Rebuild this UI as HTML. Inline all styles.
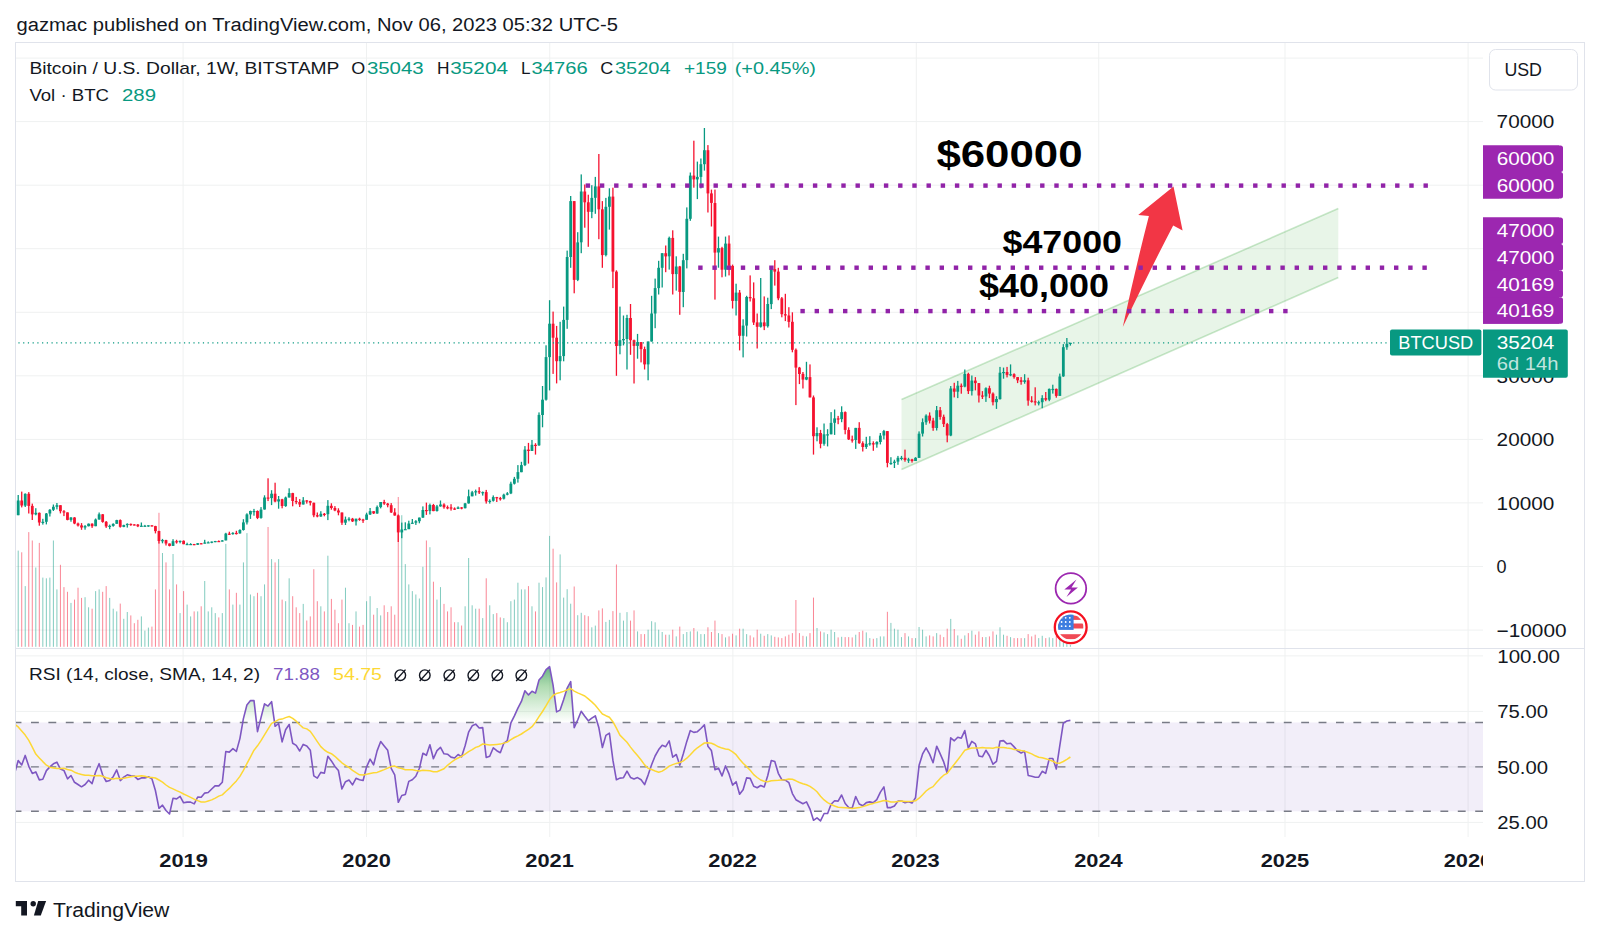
<!DOCTYPE html>
<html><head><meta charset="utf-8"><title>BTCUSD</title>
<style>html,body{margin:0;padding:0;background:#fff;width:1600px;height:937px;overflow:hidden}body{position:relative;font-family:"Liberation Sans",sans-serif}</style>
</head><body>
<svg width="1600" height="937" viewBox="0 0 1600 937" style="position:absolute;left:0;top:0">
<defs><clipPath id="cp"><rect x="16" y="43" width="1467" height="605"/></clipPath><clipPath id="cr"><rect x="16" y="649" width="1467" height="188"/></clipPath><clipPath id="ct"><rect x="16" y="837" width="1467" height="45"/></clipPath><linearGradient id="ob" x1="0" y1="0" x2="0" y2="1"><stop offset="0" stop-color="#089981" stop-opacity="0.75"/><stop offset="1" stop-color="#4caf50" stop-opacity="0"/></linearGradient></defs>
<line x1="183.1" y1="43" x2="183.1" y2="837" stroke="#eff1f1" stroke-width="1"/>
<line x1="366.5" y1="43" x2="366.5" y2="837" stroke="#eff1f1" stroke-width="1"/>
<line x1="549.75" y1="43" x2="549.75" y2="837" stroke="#eff1f1" stroke-width="1"/>
<line x1="732.9" y1="43" x2="732.9" y2="837" stroke="#eff1f1" stroke-width="1"/>
<line x1="916.3" y1="43" x2="916.3" y2="837" stroke="#eff1f1" stroke-width="1"/>
<line x1="1098.75" y1="43" x2="1098.75" y2="837" stroke="#eff1f1" stroke-width="1"/>
<line x1="1285" y1="43" x2="1285" y2="837" stroke="#eff1f1" stroke-width="1"/>
<line x1="1468.1" y1="43" x2="1468.1" y2="837" stroke="#eff1f1" stroke-width="1"/>
<line x1="16" y1="58.1" x2="1483" y2="58.1" stroke="#eff1f1" stroke-width="1"/>
<line x1="16" y1="121.6" x2="1483" y2="121.6" stroke="#eff1f1" stroke-width="1"/>
<line x1="16" y1="185.2" x2="1483" y2="185.2" stroke="#eff1f1" stroke-width="1"/>
<line x1="16" y1="248.7" x2="1483" y2="248.7" stroke="#eff1f1" stroke-width="1"/>
<line x1="16" y1="312.3" x2="1483" y2="312.3" stroke="#eff1f1" stroke-width="1"/>
<line x1="16" y1="375.8" x2="1483" y2="375.8" stroke="#eff1f1" stroke-width="1"/>
<line x1="16" y1="439.4" x2="1483" y2="439.4" stroke="#eff1f1" stroke-width="1"/>
<line x1="16" y1="502.9" x2="1483" y2="502.9" stroke="#eff1f1" stroke-width="1"/>
<line x1="16" y1="566.5" x2="1483" y2="566.5" stroke="#eff1f1" stroke-width="1"/>
<line x1="16" y1="630.1" x2="1483" y2="630.1" stroke="#eff1f1" stroke-width="1"/>
<line x1="16" y1="655.9" x2="1483" y2="655.9" stroke="#eff1f1" stroke-width="1"/>
<line x1="16" y1="711.4" x2="1483" y2="711.4" stroke="#eff1f1" stroke-width="1"/>
<line x1="16" y1="766.9" x2="1483" y2="766.9" stroke="#eff1f1" stroke-width="1"/>
<line x1="16" y1="822.4" x2="1483" y2="822.4" stroke="#eff1f1" stroke-width="1"/>
<rect x="15.5" y="42.5" width="1569" height="839" fill="none" stroke="#e0e3eb" stroke-width="1"/>
<line x1="15" y1="648.5" x2="1584" y2="648.5" stroke="#e0e3eb" stroke-width="1"/>
<g clip-path="url(#cp)">
<polygon points="901.5,399.6 1338.3,208.6 1338.3,277.6 901.5,469.6" fill="#4caf50" fill-opacity="0.13" stroke="none"/>
<line x1="901.5" y1="399.6" x2="1338.3" y2="208.6" stroke="#4caf50" stroke-opacity="0.3" stroke-width="1.6"/>
<line x1="901.5" y1="469.6" x2="1338.3" y2="277.6" stroke="#4caf50" stroke-opacity="0.3" stroke-width="1.6"/>
<rect x="17.70" y="550.6" width="1" height="96.2" fill="#089981" fill-opacity="0.5"/>
<rect x="21.22" y="552.3" width="1" height="94.5" fill="#f5122f" fill-opacity="0.5"/>
<rect x="24.74" y="586.1" width="1" height="60.7" fill="#089981" fill-opacity="0.5"/>
<rect x="28.26" y="532.1" width="1" height="114.7" fill="#f5122f" fill-opacity="0.5"/>
<rect x="31.78" y="540.5" width="1" height="106.3" fill="#f5122f" fill-opacity="0.5"/>
<rect x="35.30" y="567.5" width="1" height="79.3" fill="#089981" fill-opacity="0.5"/>
<rect x="38.81" y="542.9" width="1" height="103.9" fill="#f5122f" fill-opacity="0.5"/>
<rect x="42.33" y="577.6" width="1" height="69.2" fill="#089981" fill-opacity="0.5"/>
<rect x="45.85" y="578.3" width="1" height="68.5" fill="#089981" fill-opacity="0.5"/>
<rect x="49.37" y="577.6" width="1" height="69.2" fill="#089981" fill-opacity="0.5"/>
<rect x="52.89" y="540.5" width="1" height="106.3" fill="#089981" fill-opacity="0.5"/>
<rect x="56.41" y="589.4" width="1" height="57.4" fill="#089981" fill-opacity="0.5"/>
<rect x="59.93" y="564.8" width="1" height="82.0" fill="#f5122f" fill-opacity="0.5"/>
<rect x="63.45" y="587.1" width="1" height="59.7" fill="#f5122f" fill-opacity="0.5"/>
<rect x="66.97" y="591.8" width="1" height="55.0" fill="#f5122f" fill-opacity="0.5"/>
<rect x="70.48" y="602.9" width="1" height="43.9" fill="#089981" fill-opacity="0.5"/>
<rect x="74.00" y="599.6" width="1" height="47.2" fill="#f5122f" fill-opacity="0.5"/>
<rect x="77.52" y="587.7" width="1" height="59.1" fill="#f5122f" fill-opacity="0.5"/>
<rect x="81.04" y="597.9" width="1" height="48.9" fill="#f5122f" fill-opacity="0.5"/>
<rect x="84.56" y="597.2" width="1" height="49.6" fill="#089981" fill-opacity="0.5"/>
<rect x="88.08" y="607.3" width="1" height="39.5" fill="#089981" fill-opacity="0.5"/>
<rect x="91.60" y="608.7" width="1" height="38.1" fill="#f5122f" fill-opacity="0.5"/>
<rect x="95.12" y="591.1" width="1" height="55.7" fill="#089981" fill-opacity="0.5"/>
<rect x="98.64" y="589.4" width="1" height="57.4" fill="#089981" fill-opacity="0.5"/>
<rect x="102.16" y="591.8" width="1" height="55.0" fill="#f5122f" fill-opacity="0.5"/>
<rect x="105.68" y="586.1" width="1" height="60.7" fill="#f5122f" fill-opacity="0.5"/>
<rect x="109.19" y="597.9" width="1" height="48.9" fill="#089981" fill-opacity="0.5"/>
<rect x="112.71" y="608.7" width="1" height="38.1" fill="#089981" fill-opacity="0.5"/>
<rect x="116.23" y="611.4" width="1" height="35.4" fill="#089981" fill-opacity="0.5"/>
<rect x="119.75" y="603.6" width="1" height="43.2" fill="#f5122f" fill-opacity="0.5"/>
<rect x="123.27" y="618.8" width="1" height="28.0" fill="#089981" fill-opacity="0.5"/>
<rect x="126.79" y="612.0" width="1" height="34.8" fill="#089981" fill-opacity="0.5"/>
<rect x="130.31" y="615.4" width="1" height="31.4" fill="#f5122f" fill-opacity="0.5"/>
<rect x="133.83" y="623.2" width="1" height="23.6" fill="#f5122f" fill-opacity="0.5"/>
<rect x="137.35" y="619.8" width="1" height="27.0" fill="#f5122f" fill-opacity="0.5"/>
<rect x="140.87" y="616.4" width="1" height="30.4" fill="#089981" fill-opacity="0.5"/>
<rect x="144.38" y="630.6" width="1" height="16.2" fill="#089981" fill-opacity="0.5"/>
<rect x="147.90" y="627.6" width="1" height="19.2" fill="#089981" fill-opacity="0.5"/>
<rect x="151.42" y="626.6" width="1" height="20.2" fill="#f5122f" fill-opacity="0.5"/>
<rect x="154.94" y="589.4" width="1" height="57.4" fill="#f5122f" fill-opacity="0.5"/>
<rect x="158.46" y="512.8" width="1" height="134.0" fill="#f5122f" fill-opacity="0.5"/>
<rect x="161.98" y="553.0" width="1" height="93.8" fill="#089981" fill-opacity="0.5"/>
<rect x="165.50" y="562.4" width="1" height="84.4" fill="#f5122f" fill-opacity="0.5"/>
<rect x="169.02" y="589.4" width="1" height="57.4" fill="#f5122f" fill-opacity="0.5"/>
<rect x="172.54" y="554.0" width="1" height="92.8" fill="#089981" fill-opacity="0.5"/>
<rect x="176.06" y="584.4" width="1" height="62.4" fill="#f5122f" fill-opacity="0.5"/>
<rect x="179.57" y="613.1" width="1" height="33.7" fill="#089981" fill-opacity="0.5"/>
<rect x="183.09" y="591.1" width="1" height="55.7" fill="#f5122f" fill-opacity="0.5"/>
<rect x="186.61" y="604.6" width="1" height="42.2" fill="#089981" fill-opacity="0.5"/>
<rect x="190.13" y="616.4" width="1" height="30.4" fill="#089981" fill-opacity="0.5"/>
<rect x="193.65" y="611.4" width="1" height="35.4" fill="#f5122f" fill-opacity="0.5"/>
<rect x="197.17" y="611.4" width="1" height="35.4" fill="#089981" fill-opacity="0.5"/>
<rect x="200.69" y="606.3" width="1" height="40.5" fill="#f5122f" fill-opacity="0.5"/>
<rect x="204.21" y="581.0" width="1" height="65.8" fill="#089981" fill-opacity="0.5"/>
<rect x="207.73" y="611.4" width="1" height="35.4" fill="#089981" fill-opacity="0.5"/>
<rect x="211.25" y="607.3" width="1" height="39.5" fill="#089981" fill-opacity="0.5"/>
<rect x="214.76" y="613.1" width="1" height="33.7" fill="#089981" fill-opacity="0.5"/>
<rect x="218.28" y="617.4" width="1" height="29.4" fill="#f5122f" fill-opacity="0.5"/>
<rect x="221.80" y="613.1" width="1" height="33.7" fill="#089981" fill-opacity="0.5"/>
<rect x="225.32" y="543.9" width="1" height="102.9" fill="#089981" fill-opacity="0.5"/>
<rect x="228.84" y="589.4" width="1" height="57.4" fill="#f5122f" fill-opacity="0.5"/>
<rect x="232.36" y="604.6" width="1" height="42.2" fill="#089981" fill-opacity="0.5"/>
<rect x="235.88" y="592.8" width="1" height="54.0" fill="#f5122f" fill-opacity="0.5"/>
<rect x="239.40" y="604.6" width="1" height="42.2" fill="#089981" fill-opacity="0.5"/>
<rect x="242.92" y="562.4" width="1" height="84.4" fill="#089981" fill-opacity="0.5"/>
<rect x="246.44" y="533.1" width="1" height="113.7" fill="#089981" fill-opacity="0.5"/>
<rect x="249.95" y="594.5" width="1" height="52.3" fill="#089981" fill-opacity="0.5"/>
<rect x="253.47" y="596.2" width="1" height="50.6" fill="#089981" fill-opacity="0.5"/>
<rect x="256.99" y="592.8" width="1" height="54.0" fill="#f5122f" fill-opacity="0.5"/>
<rect x="260.51" y="596.2" width="1" height="50.6" fill="#089981" fill-opacity="0.5"/>
<rect x="264.03" y="584.4" width="1" height="62.4" fill="#089981" fill-opacity="0.5"/>
<rect x="267.55" y="527.0" width="1" height="119.8" fill="#f5122f" fill-opacity="0.5"/>
<rect x="271.07" y="559.1" width="1" height="87.7" fill="#089981" fill-opacity="0.5"/>
<rect x="274.59" y="562.4" width="1" height="84.4" fill="#f5122f" fill-opacity="0.5"/>
<rect x="278.11" y="559.1" width="1" height="87.7" fill="#089981" fill-opacity="0.5"/>
<rect x="281.62" y="599.6" width="1" height="47.2" fill="#f5122f" fill-opacity="0.5"/>
<rect x="285.14" y="601.2" width="1" height="45.6" fill="#089981" fill-opacity="0.5"/>
<rect x="288.66" y="578.3" width="1" height="68.5" fill="#089981" fill-opacity="0.5"/>
<rect x="292.18" y="596.2" width="1" height="50.6" fill="#f5122f" fill-opacity="0.5"/>
<rect x="295.70" y="607.3" width="1" height="39.5" fill="#f5122f" fill-opacity="0.5"/>
<rect x="299.22" y="613.1" width="1" height="33.7" fill="#f5122f" fill-opacity="0.5"/>
<rect x="302.74" y="603.9" width="1" height="42.9" fill="#089981" fill-opacity="0.5"/>
<rect x="306.26" y="620.5" width="1" height="26.3" fill="#f5122f" fill-opacity="0.5"/>
<rect x="309.78" y="616.4" width="1" height="30.4" fill="#f5122f" fill-opacity="0.5"/>
<rect x="313.30" y="569.2" width="1" height="77.6" fill="#f5122f" fill-opacity="0.5"/>
<rect x="316.81" y="601.2" width="1" height="45.6" fill="#f5122f" fill-opacity="0.5"/>
<rect x="320.33" y="606.3" width="1" height="40.5" fill="#089981" fill-opacity="0.5"/>
<rect x="323.85" y="611.4" width="1" height="35.4" fill="#f5122f" fill-opacity="0.5"/>
<rect x="327.37" y="555.7" width="1" height="91.1" fill="#089981" fill-opacity="0.5"/>
<rect x="330.89" y="598.9" width="1" height="47.9" fill="#f5122f" fill-opacity="0.5"/>
<rect x="334.41" y="609.7" width="1" height="37.1" fill="#f5122f" fill-opacity="0.5"/>
<rect x="337.93" y="623.2" width="1" height="23.6" fill="#f5122f" fill-opacity="0.5"/>
<rect x="341.45" y="599.6" width="1" height="47.2" fill="#f5122f" fill-opacity="0.5"/>
<rect x="344.97" y="587.7" width="1" height="59.1" fill="#089981" fill-opacity="0.5"/>
<rect x="348.49" y="623.2" width="1" height="23.6" fill="#089981" fill-opacity="0.5"/>
<rect x="352.00" y="624.9" width="1" height="21.9" fill="#f5122f" fill-opacity="0.5"/>
<rect x="355.52" y="611.4" width="1" height="35.4" fill="#089981" fill-opacity="0.5"/>
<rect x="359.04" y="626.6" width="1" height="20.2" fill="#f5122f" fill-opacity="0.5"/>
<rect x="362.56" y="624.9" width="1" height="21.9" fill="#f5122f" fill-opacity="0.5"/>
<rect x="366.08" y="601.2" width="1" height="45.6" fill="#089981" fill-opacity="0.5"/>
<rect x="369.60" y="596.2" width="1" height="50.6" fill="#089981" fill-opacity="0.5"/>
<rect x="373.12" y="614.7" width="1" height="32.1" fill="#f5122f" fill-opacity="0.5"/>
<rect x="376.64" y="608.0" width="1" height="38.8" fill="#089981" fill-opacity="0.5"/>
<rect x="380.16" y="615.4" width="1" height="31.4" fill="#089981" fill-opacity="0.5"/>
<rect x="383.68" y="605.3" width="1" height="41.5" fill="#f5122f" fill-opacity="0.5"/>
<rect x="387.19" y="612.0" width="1" height="34.8" fill="#f5122f" fill-opacity="0.5"/>
<rect x="390.71" y="606.3" width="1" height="40.5" fill="#f5122f" fill-opacity="0.5"/>
<rect x="394.23" y="614.7" width="1" height="32.1" fill="#f5122f" fill-opacity="0.5"/>
<rect x="397.75" y="497.0" width="1" height="149.8" fill="#f5122f" fill-opacity="0.5"/>
<rect x="401.27" y="515.2" width="1" height="131.6" fill="#089981" fill-opacity="0.5"/>
<rect x="404.79" y="564.1" width="1" height="82.7" fill="#089981" fill-opacity="0.5"/>
<rect x="408.31" y="584.4" width="1" height="62.4" fill="#089981" fill-opacity="0.5"/>
<rect x="411.83" y="591.1" width="1" height="55.7" fill="#089981" fill-opacity="0.5"/>
<rect x="415.35" y="594.5" width="1" height="52.3" fill="#089981" fill-opacity="0.5"/>
<rect x="418.87" y="598.5" width="1" height="48.3" fill="#089981" fill-opacity="0.5"/>
<rect x="422.38" y="566.8" width="1" height="80.0" fill="#089981" fill-opacity="0.5"/>
<rect x="425.90" y="540.5" width="1" height="106.3" fill="#f5122f" fill-opacity="0.5"/>
<rect x="429.42" y="547.2" width="1" height="99.6" fill="#089981" fill-opacity="0.5"/>
<rect x="432.94" y="581.7" width="1" height="65.1" fill="#f5122f" fill-opacity="0.5"/>
<rect x="436.46" y="599.6" width="1" height="47.2" fill="#089981" fill-opacity="0.5"/>
<rect x="439.98" y="587.1" width="1" height="59.7" fill="#089981" fill-opacity="0.5"/>
<rect x="443.50" y="603.9" width="1" height="42.9" fill="#f5122f" fill-opacity="0.5"/>
<rect x="447.02" y="611.4" width="1" height="35.4" fill="#f5122f" fill-opacity="0.5"/>
<rect x="450.54" y="607.3" width="1" height="39.5" fill="#f5122f" fill-opacity="0.5"/>
<rect x="454.06" y="622.2" width="1" height="24.6" fill="#f5122f" fill-opacity="0.5"/>
<rect x="457.57" y="622.2" width="1" height="24.6" fill="#089981" fill-opacity="0.5"/>
<rect x="461.09" y="625.5" width="1" height="21.3" fill="#f5122f" fill-opacity="0.5"/>
<rect x="464.61" y="606.3" width="1" height="40.5" fill="#089981" fill-opacity="0.5"/>
<rect x="468.13" y="558.0" width="1" height="88.8" fill="#089981" fill-opacity="0.5"/>
<rect x="471.65" y="605.3" width="1" height="41.5" fill="#089981" fill-opacity="0.5"/>
<rect x="475.17" y="608.7" width="1" height="38.1" fill="#089981" fill-opacity="0.5"/>
<rect x="478.69" y="608.7" width="1" height="38.1" fill="#f5122f" fill-opacity="0.5"/>
<rect x="482.21" y="618.1" width="1" height="28.7" fill="#089981" fill-opacity="0.5"/>
<rect x="485.73" y="578.3" width="1" height="68.5" fill="#f5122f" fill-opacity="0.5"/>
<rect x="489.25" y="605.3" width="1" height="41.5" fill="#089981" fill-opacity="0.5"/>
<rect x="492.76" y="614.1" width="1" height="32.7" fill="#089981" fill-opacity="0.5"/>
<rect x="496.28" y="613.1" width="1" height="33.7" fill="#f5122f" fill-opacity="0.5"/>
<rect x="499.80" y="617.4" width="1" height="29.4" fill="#f5122f" fill-opacity="0.5"/>
<rect x="503.32" y="618.1" width="1" height="28.7" fill="#089981" fill-opacity="0.5"/>
<rect x="506.84" y="622.2" width="1" height="24.6" fill="#089981" fill-opacity="0.5"/>
<rect x="510.36" y="601.2" width="1" height="45.6" fill="#089981" fill-opacity="0.5"/>
<rect x="513.88" y="599.6" width="1" height="47.2" fill="#089981" fill-opacity="0.5"/>
<rect x="517.40" y="582.7" width="1" height="64.1" fill="#089981" fill-opacity="0.5"/>
<rect x="520.92" y="589.4" width="1" height="57.4" fill="#089981" fill-opacity="0.5"/>
<rect x="524.44" y="589.4" width="1" height="57.4" fill="#089981" fill-opacity="0.5"/>
<rect x="527.96" y="586.1" width="1" height="60.7" fill="#f5122f" fill-opacity="0.5"/>
<rect x="531.47" y="606.3" width="1" height="40.5" fill="#089981" fill-opacity="0.5"/>
<rect x="534.99" y="611.4" width="1" height="35.4" fill="#f5122f" fill-opacity="0.5"/>
<rect x="538.51" y="582.7" width="1" height="64.1" fill="#089981" fill-opacity="0.5"/>
<rect x="542.03" y="587.1" width="1" height="59.7" fill="#089981" fill-opacity="0.5"/>
<rect x="545.55" y="577.4" width="1" height="69.4" fill="#089981" fill-opacity="0.5"/>
<rect x="549.07" y="535.9" width="1" height="110.9" fill="#089981" fill-opacity="0.5"/>
<rect x="552.59" y="548.7" width="1" height="98.1" fill="#f5122f" fill-opacity="0.5"/>
<rect x="556.11" y="582.4" width="1" height="64.4" fill="#f5122f" fill-opacity="0.5"/>
<rect x="559.63" y="554.4" width="1" height="92.4" fill="#089981" fill-opacity="0.5"/>
<rect x="563.15" y="597.6" width="1" height="49.2" fill="#089981" fill-opacity="0.5"/>
<rect x="566.66" y="589.2" width="1" height="57.6" fill="#089981" fill-opacity="0.5"/>
<rect x="570.18" y="603.7" width="1" height="43.1" fill="#089981" fill-opacity="0.5"/>
<rect x="573.70" y="586.5" width="1" height="60.3" fill="#f5122f" fill-opacity="0.5"/>
<rect x="577.22" y="615.2" width="1" height="31.6" fill="#089981" fill-opacity="0.5"/>
<rect x="580.74" y="612.8" width="1" height="34.0" fill="#089981" fill-opacity="0.5"/>
<rect x="584.26" y="615.2" width="1" height="31.6" fill="#f5122f" fill-opacity="0.5"/>
<rect x="587.78" y="616.2" width="1" height="30.6" fill="#f5122f" fill-opacity="0.5"/>
<rect x="591.30" y="627.3" width="1" height="19.5" fill="#089981" fill-opacity="0.5"/>
<rect x="594.82" y="625.6" width="1" height="21.2" fill="#089981" fill-opacity="0.5"/>
<rect x="598.34" y="610.4" width="1" height="36.4" fill="#f5122f" fill-opacity="0.5"/>
<rect x="601.85" y="608.4" width="1" height="38.4" fill="#f5122f" fill-opacity="0.5"/>
<rect x="605.37" y="621.9" width="1" height="24.9" fill="#089981" fill-opacity="0.5"/>
<rect x="608.89" y="619.9" width="1" height="26.9" fill="#089981" fill-opacity="0.5"/>
<rect x="612.41" y="611.1" width="1" height="35.7" fill="#f5122f" fill-opacity="0.5"/>
<rect x="615.93" y="564.5" width="1" height="82.3" fill="#f5122f" fill-opacity="0.5"/>
<rect x="619.45" y="612.8" width="1" height="34.0" fill="#089981" fill-opacity="0.5"/>
<rect x="622.97" y="620.6" width="1" height="26.2" fill="#089981" fill-opacity="0.5"/>
<rect x="626.49" y="612.1" width="1" height="34.7" fill="#089981" fill-opacity="0.5"/>
<rect x="630.01" y="620.6" width="1" height="26.2" fill="#f5122f" fill-opacity="0.5"/>
<rect x="633.53" y="610.4" width="1" height="36.4" fill="#f5122f" fill-opacity="0.5"/>
<rect x="637.04" y="631.4" width="1" height="15.4" fill="#089981" fill-opacity="0.5"/>
<rect x="640.56" y="634.1" width="1" height="12.7" fill="#f5122f" fill-opacity="0.5"/>
<rect x="644.08" y="634.1" width="1" height="12.7" fill="#f5122f" fill-opacity="0.5"/>
<rect x="647.60" y="629.7" width="1" height="17.1" fill="#089981" fill-opacity="0.5"/>
<rect x="651.12" y="621.2" width="1" height="25.6" fill="#089981" fill-opacity="0.5"/>
<rect x="654.64" y="622.3" width="1" height="24.5" fill="#089981" fill-opacity="0.5"/>
<rect x="658.16" y="629.7" width="1" height="17.1" fill="#089981" fill-opacity="0.5"/>
<rect x="661.68" y="632.0" width="1" height="14.8" fill="#089981" fill-opacity="0.5"/>
<rect x="665.20" y="634.7" width="1" height="12.1" fill="#f5122f" fill-opacity="0.5"/>
<rect x="668.72" y="634.7" width="1" height="12.1" fill="#089981" fill-opacity="0.5"/>
<rect x="672.23" y="629.7" width="1" height="17.1" fill="#f5122f" fill-opacity="0.5"/>
<rect x="675.75" y="636.4" width="1" height="10.4" fill="#089981" fill-opacity="0.5"/>
<rect x="679.27" y="626.6" width="1" height="20.2" fill="#f5122f" fill-opacity="0.5"/>
<rect x="682.79" y="634.1" width="1" height="12.7" fill="#089981" fill-opacity="0.5"/>
<rect x="686.31" y="632.0" width="1" height="14.8" fill="#089981" fill-opacity="0.5"/>
<rect x="689.83" y="631.4" width="1" height="15.4" fill="#089981" fill-opacity="0.5"/>
<rect x="693.35" y="628.0" width="1" height="18.8" fill="#f5122f" fill-opacity="0.5"/>
<rect x="696.87" y="631.4" width="1" height="15.4" fill="#089981" fill-opacity="0.5"/>
<rect x="700.39" y="634.1" width="1" height="12.7" fill="#089981" fill-opacity="0.5"/>
<rect x="703.91" y="634.1" width="1" height="12.7" fill="#089981" fill-opacity="0.5"/>
<rect x="707.42" y="627.3" width="1" height="19.5" fill="#f5122f" fill-opacity="0.5"/>
<rect x="710.94" y="632.0" width="1" height="14.8" fill="#f5122f" fill-opacity="0.5"/>
<rect x="714.46" y="620.6" width="1" height="26.2" fill="#f5122f" fill-opacity="0.5"/>
<rect x="717.98" y="633.1" width="1" height="13.7" fill="#089981" fill-opacity="0.5"/>
<rect x="721.50" y="634.1" width="1" height="12.7" fill="#f5122f" fill-opacity="0.5"/>
<rect x="725.02" y="637.4" width="1" height="9.4" fill="#089981" fill-opacity="0.5"/>
<rect x="728.54" y="636.4" width="1" height="10.4" fill="#f5122f" fill-opacity="0.5"/>
<rect x="732.06" y="633.7" width="1" height="13.1" fill="#f5122f" fill-opacity="0.5"/>
<rect x="735.58" y="635.4" width="1" height="11.4" fill="#089981" fill-opacity="0.5"/>
<rect x="739.10" y="628.7" width="1" height="18.1" fill="#f5122f" fill-opacity="0.5"/>
<rect x="742.61" y="628.7" width="1" height="18.1" fill="#089981" fill-opacity="0.5"/>
<rect x="746.13" y="634.1" width="1" height="12.7" fill="#089981" fill-opacity="0.5"/>
<rect x="749.65" y="635.4" width="1" height="11.4" fill="#f5122f" fill-opacity="0.5"/>
<rect x="753.17" y="637.4" width="1" height="9.4" fill="#f5122f" fill-opacity="0.5"/>
<rect x="756.69" y="629.7" width="1" height="17.1" fill="#f5122f" fill-opacity="0.5"/>
<rect x="760.21" y="633.7" width="1" height="13.1" fill="#089981" fill-opacity="0.5"/>
<rect x="763.73" y="635.8" width="1" height="11.0" fill="#f5122f" fill-opacity="0.5"/>
<rect x="767.25" y="634.1" width="1" height="12.7" fill="#089981" fill-opacity="0.5"/>
<rect x="770.77" y="635.4" width="1" height="11.4" fill="#089981" fill-opacity="0.5"/>
<rect x="774.29" y="636.8" width="1" height="10.0" fill="#f5122f" fill-opacity="0.5"/>
<rect x="777.80" y="637.4" width="1" height="9.4" fill="#f5122f" fill-opacity="0.5"/>
<rect x="781.32" y="638.1" width="1" height="8.7" fill="#f5122f" fill-opacity="0.5"/>
<rect x="784.84" y="636.4" width="1" height="10.4" fill="#f5122f" fill-opacity="0.5"/>
<rect x="788.36" y="634.7" width="1" height="12.1" fill="#f5122f" fill-opacity="0.5"/>
<rect x="791.88" y="633.1" width="1" height="13.7" fill="#f5122f" fill-opacity="0.5"/>
<rect x="795.40" y="600.0" width="1" height="46.8" fill="#f5122f" fill-opacity="0.5"/>
<rect x="798.92" y="633.1" width="1" height="13.7" fill="#f5122f" fill-opacity="0.5"/>
<rect x="802.44" y="635.8" width="1" height="11.0" fill="#f5122f" fill-opacity="0.5"/>
<rect x="805.96" y="636.4" width="1" height="10.4" fill="#089981" fill-opacity="0.5"/>
<rect x="809.48" y="633.1" width="1" height="13.7" fill="#f5122f" fill-opacity="0.5"/>
<rect x="812.99" y="597.6" width="1" height="49.2" fill="#f5122f" fill-opacity="0.5"/>
<rect x="816.51" y="628.0" width="1" height="18.8" fill="#089981" fill-opacity="0.5"/>
<rect x="820.03" y="631.4" width="1" height="15.4" fill="#f5122f" fill-opacity="0.5"/>
<rect x="823.55" y="632.4" width="1" height="14.4" fill="#089981" fill-opacity="0.5"/>
<rect x="827.07" y="634.1" width="1" height="12.7" fill="#089981" fill-opacity="0.5"/>
<rect x="830.59" y="629.7" width="1" height="17.1" fill="#089981" fill-opacity="0.5"/>
<rect x="834.11" y="632.0" width="1" height="14.8" fill="#089981" fill-opacity="0.5"/>
<rect x="837.63" y="637.4" width="1" height="9.4" fill="#f5122f" fill-opacity="0.5"/>
<rect x="841.15" y="636.8" width="1" height="10.0" fill="#089981" fill-opacity="0.5"/>
<rect x="844.67" y="637.1" width="1" height="9.7" fill="#f5122f" fill-opacity="0.5"/>
<rect x="848.18" y="637.1" width="1" height="9.7" fill="#f5122f" fill-opacity="0.5"/>
<rect x="851.70" y="637.4" width="1" height="9.4" fill="#f5122f" fill-opacity="0.5"/>
<rect x="855.22" y="634.7" width="1" height="12.1" fill="#089981" fill-opacity="0.5"/>
<rect x="858.74" y="632.0" width="1" height="14.8" fill="#f5122f" fill-opacity="0.5"/>
<rect x="862.26" y="630.7" width="1" height="16.1" fill="#f5122f" fill-opacity="0.5"/>
<rect x="865.78" y="632.4" width="1" height="14.4" fill="#089981" fill-opacity="0.5"/>
<rect x="869.30" y="638.1" width="1" height="8.7" fill="#089981" fill-opacity="0.5"/>
<rect x="872.82" y="638.8" width="1" height="8.0" fill="#f5122f" fill-opacity="0.5"/>
<rect x="876.34" y="638.1" width="1" height="8.7" fill="#089981" fill-opacity="0.5"/>
<rect x="879.86" y="636.4" width="1" height="10.4" fill="#089981" fill-opacity="0.5"/>
<rect x="883.37" y="636.4" width="1" height="10.4" fill="#089981" fill-opacity="0.5"/>
<rect x="886.89" y="611.8" width="1" height="35.0" fill="#f5122f" fill-opacity="0.5"/>
<rect x="890.41" y="622.9" width="1" height="23.9" fill="#089981" fill-opacity="0.5"/>
<rect x="893.93" y="628.7" width="1" height="18.1" fill="#089981" fill-opacity="0.5"/>
<rect x="897.45" y="629.7" width="1" height="17.1" fill="#089981" fill-opacity="0.5"/>
<rect x="900.97" y="637.1" width="1" height="9.7" fill="#089981" fill-opacity="0.5"/>
<rect x="904.49" y="633.1" width="1" height="13.7" fill="#f5122f" fill-opacity="0.5"/>
<rect x="908.01" y="636.4" width="1" height="10.4" fill="#089981" fill-opacity="0.5"/>
<rect x="911.53" y="638.1" width="1" height="8.7" fill="#f5122f" fill-opacity="0.5"/>
<rect x="915.05" y="638.1" width="1" height="8.7" fill="#089981" fill-opacity="0.5"/>
<rect x="918.56" y="627.0" width="1" height="19.8" fill="#089981" fill-opacity="0.5"/>
<rect x="922.08" y="629.7" width="1" height="17.1" fill="#089981" fill-opacity="0.5"/>
<rect x="925.60" y="636.4" width="1" height="10.4" fill="#089981" fill-opacity="0.5"/>
<rect x="929.12" y="635.4" width="1" height="11.4" fill="#f5122f" fill-opacity="0.5"/>
<rect x="932.64" y="636.4" width="1" height="10.4" fill="#f5122f" fill-opacity="0.5"/>
<rect x="936.16" y="633.1" width="1" height="13.7" fill="#089981" fill-opacity="0.5"/>
<rect x="939.68" y="634.7" width="1" height="12.1" fill="#f5122f" fill-opacity="0.5"/>
<rect x="943.20" y="637.1" width="1" height="9.7" fill="#f5122f" fill-opacity="0.5"/>
<rect x="946.72" y="628.7" width="1" height="18.1" fill="#f5122f" fill-opacity="0.5"/>
<rect x="950.24" y="618.9" width="1" height="27.9" fill="#089981" fill-opacity="0.5"/>
<rect x="953.75" y="629.0" width="1" height="17.8" fill="#f5122f" fill-opacity="0.5"/>
<rect x="957.27" y="635.4" width="1" height="11.4" fill="#089981" fill-opacity="0.5"/>
<rect x="960.79" y="638.8" width="1" height="8.0" fill="#f5122f" fill-opacity="0.5"/>
<rect x="964.31" y="635.4" width="1" height="11.4" fill="#089981" fill-opacity="0.5"/>
<rect x="967.83" y="633.1" width="1" height="13.7" fill="#f5122f" fill-opacity="0.5"/>
<rect x="971.35" y="630.7" width="1" height="16.1" fill="#089981" fill-opacity="0.5"/>
<rect x="974.87" y="634.7" width="1" height="12.1" fill="#f5122f" fill-opacity="0.5"/>
<rect x="978.39" y="631.4" width="1" height="15.4" fill="#f5122f" fill-opacity="0.5"/>
<rect x="981.91" y="637.1" width="1" height="9.7" fill="#f5122f" fill-opacity="0.5"/>
<rect x="985.43" y="637.1" width="1" height="9.7" fill="#089981" fill-opacity="0.5"/>
<rect x="988.94" y="636.4" width="1" height="10.4" fill="#f5122f" fill-opacity="0.5"/>
<rect x="992.46" y="631.4" width="1" height="15.4" fill="#f5122f" fill-opacity="0.5"/>
<rect x="995.98" y="634.7" width="1" height="12.1" fill="#089981" fill-opacity="0.5"/>
<rect x="999.50" y="627.3" width="1" height="19.5" fill="#089981" fill-opacity="0.5"/>
<rect x="1003.02" y="634.7" width="1" height="12.1" fill="#089981" fill-opacity="0.5"/>
<rect x="1006.54" y="635.8" width="1" height="11.0" fill="#f5122f" fill-opacity="0.5"/>
<rect x="1010.06" y="637.1" width="1" height="9.7" fill="#089981" fill-opacity="0.5"/>
<rect x="1013.58" y="638.1" width="1" height="8.7" fill="#f5122f" fill-opacity="0.5"/>
<rect x="1017.10" y="638.1" width="1" height="8.7" fill="#f5122f" fill-opacity="0.5"/>
<rect x="1020.62" y="638.1" width="1" height="8.7" fill="#f5122f" fill-opacity="0.5"/>
<rect x="1024.13" y="638.1" width="1" height="8.7" fill="#089981" fill-opacity="0.5"/>
<rect x="1027.65" y="634.1" width="1" height="12.7" fill="#f5122f" fill-opacity="0.5"/>
<rect x="1031.17" y="636.4" width="1" height="10.4" fill="#f5122f" fill-opacity="0.5"/>
<rect x="1034.69" y="634.7" width="1" height="12.1" fill="#f5122f" fill-opacity="0.5"/>
<rect x="1038.21" y="638.1" width="1" height="8.7" fill="#089981" fill-opacity="0.5"/>
<rect x="1041.73" y="635.8" width="1" height="11.0" fill="#089981" fill-opacity="0.5"/>
<rect x="1045.25" y="638.1" width="1" height="8.7" fill="#f5122f" fill-opacity="0.5"/>
<rect x="1048.77" y="637.4" width="1" height="9.4" fill="#089981" fill-opacity="0.5"/>
<rect x="1052.29" y="638.1" width="1" height="8.7" fill="#089981" fill-opacity="0.5"/>
<rect x="1055.81" y="635.8" width="1" height="11.0" fill="#f5122f" fill-opacity="0.5"/>
<rect x="1059.32" y="638.1" width="1" height="8.7" fill="#089981" fill-opacity="0.5"/>
<rect x="1062.84" y="638.8" width="1" height="8.0" fill="#089981" fill-opacity="0.5"/>
<rect x="1066.36" y="640.8" width="1" height="6.0" fill="#089981" fill-opacity="0.5"/>
<rect x="1069.88" y="644.9" width="1" height="1.9" fill="#089981" fill-opacity="0.5"/>
<rect x="17.55" y="495.0" width="1.3" height="20.2" fill="#089981"/>
<rect x="16.80" y="500.5" width="2.8" height="14.7" fill="#089981"/>
<rect x="21.07" y="491.6" width="1.3" height="15.8" fill="#f5122f"/>
<rect x="20.32" y="500.5" width="2.8" height="5.0" fill="#f5122f"/>
<rect x="24.59" y="493.4" width="1.3" height="13.6" fill="#089981"/>
<rect x="23.84" y="493.8" width="2.8" height="11.8" fill="#089981"/>
<rect x="28.11" y="492.1" width="1.3" height="21.4" fill="#f5122f"/>
<rect x="27.36" y="493.8" width="2.8" height="12.1" fill="#f5122f"/>
<rect x="31.63" y="503.6" width="1.3" height="16.4" fill="#f5122f"/>
<rect x="30.88" y="505.9" width="2.8" height="8.5" fill="#f5122f"/>
<rect x="35.15" y="508.2" width="1.3" height="7.1" fill="#089981"/>
<rect x="34.40" y="512.8" width="2.8" height="1.6" fill="#089981"/>
<rect x="38.66" y="512.5" width="1.3" height="13.2" fill="#f5122f"/>
<rect x="37.91" y="512.8" width="2.8" height="9.7" fill="#f5122f"/>
<rect x="42.18" y="518.8" width="1.3" height="5.8" fill="#089981"/>
<rect x="41.43" y="521.8" width="2.8" height="1.2" fill="#089981"/>
<rect x="45.70" y="513.0" width="1.3" height="11.4" fill="#089981"/>
<rect x="44.95" y="513.5" width="2.8" height="8.3" fill="#089981"/>
<rect x="49.22" y="509.1" width="1.3" height="7.4" fill="#089981"/>
<rect x="48.47" y="509.8" width="2.8" height="3.7" fill="#089981"/>
<rect x="52.74" y="504.5" width="1.3" height="6.5" fill="#089981"/>
<rect x="51.99" y="506.8" width="2.8" height="3.0" fill="#089981"/>
<rect x="56.26" y="503.0" width="1.3" height="6.4" fill="#089981"/>
<rect x="55.51" y="505.2" width="2.8" height="1.6" fill="#089981"/>
<rect x="59.78" y="505.2" width="1.3" height="8.2" fill="#f5122f"/>
<rect x="59.03" y="505.2" width="2.8" height="6.0" fill="#f5122f"/>
<rect x="63.30" y="510.1" width="1.3" height="6.0" fill="#f5122f"/>
<rect x="62.55" y="511.3" width="2.8" height="1.2" fill="#f5122f"/>
<rect x="66.82" y="512.4" width="1.3" height="7.9" fill="#f5122f"/>
<rect x="66.07" y="512.4" width="2.8" height="7.5" fill="#f5122f"/>
<rect x="70.33" y="517.1" width="1.3" height="4.6" fill="#089981"/>
<rect x="69.58" y="517.5" width="2.8" height="2.4" fill="#089981"/>
<rect x="73.85" y="517.1" width="1.3" height="7.1" fill="#f5122f"/>
<rect x="73.10" y="517.5" width="2.8" height="6.0" fill="#f5122f"/>
<rect x="77.37" y="522.6" width="1.3" height="3.9" fill="#f5122f"/>
<rect x="76.62" y="523.5" width="2.8" height="2.0" fill="#f5122f"/>
<rect x="80.89" y="523.1" width="1.3" height="6.7" fill="#f5122f"/>
<rect x="80.14" y="525.4" width="2.8" height="2.1" fill="#f5122f"/>
<rect x="84.41" y="525.1" width="1.3" height="4.6" fill="#089981"/>
<rect x="83.66" y="526.1" width="2.8" height="1.4" fill="#089981"/>
<rect x="87.93" y="523.5" width="1.3" height="2.9" fill="#089981"/>
<rect x="87.18" y="523.7" width="2.8" height="2.5" fill="#089981"/>
<rect x="91.45" y="523.3" width="1.3" height="4.6" fill="#f5122f"/>
<rect x="90.70" y="523.7" width="2.8" height="2.5" fill="#f5122f"/>
<rect x="94.97" y="518.5" width="1.3" height="7.7" fill="#089981"/>
<rect x="94.22" y="519.5" width="2.8" height="6.7" fill="#089981"/>
<rect x="98.49" y="512.5" width="1.3" height="7.2" fill="#089981"/>
<rect x="97.74" y="514.3" width="2.8" height="5.2" fill="#089981"/>
<rect x="102.01" y="514.1" width="1.3" height="8.6" fill="#f5122f"/>
<rect x="101.26" y="514.3" width="2.8" height="7.6" fill="#f5122f"/>
<rect x="105.53" y="521.0" width="1.3" height="6.9" fill="#f5122f"/>
<rect x="104.78" y="521.8" width="2.8" height="4.6" fill="#f5122f"/>
<rect x="109.04" y="524.6" width="1.3" height="4.6" fill="#089981"/>
<rect x="108.29" y="525.8" width="2.8" height="1.2" fill="#089981"/>
<rect x="112.56" y="523.3" width="1.3" height="3.4" fill="#089981"/>
<rect x="111.81" y="523.9" width="2.8" height="2.0" fill="#089981"/>
<rect x="116.08" y="519.8" width="1.3" height="4.0" fill="#089981"/>
<rect x="115.33" y="520.1" width="2.8" height="3.7" fill="#089981"/>
<rect x="119.60" y="519.4" width="1.3" height="8.2" fill="#f5122f"/>
<rect x="118.85" y="520.1" width="2.8" height="6.7" fill="#f5122f"/>
<rect x="123.12" y="524.7" width="1.3" height="2.5" fill="#089981"/>
<rect x="122.37" y="525.1" width="2.8" height="1.8" fill="#089981"/>
<rect x="126.64" y="523.3" width="1.3" height="4.3" fill="#089981"/>
<rect x="125.89" y="523.9" width="2.8" height="1.2" fill="#089981"/>
<rect x="130.16" y="523.5" width="1.3" height="2.3" fill="#f5122f"/>
<rect x="129.41" y="523.9" width="2.8" height="1.2" fill="#f5122f"/>
<rect x="133.68" y="524.2" width="1.3" height="1.2" fill="#f5122f"/>
<rect x="132.93" y="524.4" width="2.8" height="1.2" fill="#f5122f"/>
<rect x="137.20" y="524.0" width="1.3" height="3.1" fill="#f5122f"/>
<rect x="136.45" y="524.6" width="2.8" height="1.7" fill="#f5122f"/>
<rect x="140.72" y="522.5" width="1.3" height="3.8" fill="#089981"/>
<rect x="139.97" y="525.7" width="2.8" height="1.2" fill="#089981"/>
<rect x="144.23" y="524.9" width="1.3" height="1.4" fill="#089981"/>
<rect x="143.48" y="525.7" width="2.8" height="1.2" fill="#089981"/>
<rect x="147.75" y="525.3" width="1.3" height="1.5" fill="#089981"/>
<rect x="147.00" y="525.3" width="2.8" height="1.2" fill="#089981"/>
<rect x="151.27" y="525.2" width="1.3" height="1.3" fill="#f5122f"/>
<rect x="150.52" y="525.3" width="2.8" height="1.2" fill="#f5122f"/>
<rect x="154.79" y="525.8" width="1.3" height="7.6" fill="#f5122f"/>
<rect x="154.04" y="526.1" width="2.8" height="5.0" fill="#f5122f"/>
<rect x="158.31" y="530.8" width="1.3" height="12.8" fill="#f5122f"/>
<rect x="157.56" y="531.0" width="2.8" height="10.0" fill="#f5122f"/>
<rect x="161.83" y="538.9" width="1.3" height="4.4" fill="#089981"/>
<rect x="161.08" y="540.1" width="2.8" height="1.2" fill="#089981"/>
<rect x="165.35" y="539.8" width="1.3" height="5.7" fill="#f5122f"/>
<rect x="164.60" y="540.1" width="2.8" height="3.4" fill="#f5122f"/>
<rect x="168.87" y="543.5" width="1.3" height="2.9" fill="#f5122f"/>
<rect x="168.12" y="543.5" width="2.8" height="2.4" fill="#f5122f"/>
<rect x="172.39" y="539.2" width="1.3" height="6.7" fill="#089981"/>
<rect x="171.64" y="541.2" width="2.8" height="4.7" fill="#089981"/>
<rect x="175.91" y="539.8" width="1.3" height="3.8" fill="#f5122f"/>
<rect x="175.16" y="541.2" width="2.8" height="1.2" fill="#f5122f"/>
<rect x="179.42" y="540.6" width="1.3" height="2.7" fill="#089981"/>
<rect x="178.67" y="540.8" width="2.8" height="1.2" fill="#089981"/>
<rect x="182.94" y="540.4" width="1.3" height="3.8" fill="#f5122f"/>
<rect x="182.19" y="540.8" width="2.8" height="3.4" fill="#f5122f"/>
<rect x="186.46" y="542.7" width="1.3" height="1.7" fill="#089981"/>
<rect x="185.71" y="544.0" width="2.8" height="1.2" fill="#089981"/>
<rect x="189.98" y="543.2" width="1.3" height="1.3" fill="#089981"/>
<rect x="189.23" y="544.0" width="2.8" height="1.2" fill="#089981"/>
<rect x="193.50" y="543.9" width="1.3" height="1.3" fill="#f5122f"/>
<rect x="192.75" y="544.0" width="2.8" height="1.2" fill="#f5122f"/>
<rect x="197.02" y="543.0" width="1.3" height="2.0" fill="#089981"/>
<rect x="196.27" y="543.2" width="2.8" height="1.6" fill="#089981"/>
<rect x="200.54" y="543.2" width="1.3" height="1.0" fill="#f5122f"/>
<rect x="199.79" y="543.2" width="2.8" height="1.2" fill="#f5122f"/>
<rect x="204.06" y="539.8" width="1.3" height="3.7" fill="#089981"/>
<rect x="203.31" y="542.5" width="2.8" height="1.2" fill="#089981"/>
<rect x="207.58" y="541.4" width="1.3" height="1.5" fill="#089981"/>
<rect x="206.83" y="542.3" width="2.8" height="1.2" fill="#089981"/>
<rect x="211.09" y="541.5" width="1.3" height="1.7" fill="#089981"/>
<rect x="210.34" y="541.6" width="2.8" height="1.2" fill="#089981"/>
<rect x="214.61" y="540.9" width="1.3" height="1.3" fill="#089981"/>
<rect x="213.86" y="541.0" width="2.8" height="1.2" fill="#089981"/>
<rect x="218.13" y="540.4" width="1.3" height="1.0" fill="#f5122f"/>
<rect x="217.38" y="541.0" width="2.8" height="1.2" fill="#f5122f"/>
<rect x="221.65" y="540.1" width="1.3" height="1.4" fill="#089981"/>
<rect x="220.90" y="540.4" width="2.8" height="1.2" fill="#089981"/>
<rect x="225.17" y="532.8" width="1.3" height="7.6" fill="#089981"/>
<rect x="224.42" y="533.6" width="2.8" height="6.8" fill="#089981"/>
<rect x="228.69" y="531.7" width="1.3" height="3.3" fill="#f5122f"/>
<rect x="227.94" y="533.6" width="2.8" height="1.2" fill="#f5122f"/>
<rect x="232.21" y="532.2" width="1.3" height="2.5" fill="#089981"/>
<rect x="231.46" y="532.9" width="2.8" height="1.2" fill="#089981"/>
<rect x="235.73" y="530.8" width="1.3" height="3.7" fill="#f5122f"/>
<rect x="234.98" y="532.9" width="2.8" height="1.2" fill="#f5122f"/>
<rect x="239.25" y="529.3" width="1.3" height="4.4" fill="#089981"/>
<rect x="238.50" y="530.0" width="2.8" height="3.4" fill="#089981"/>
<rect x="242.77" y="519.2" width="1.3" height="11.4" fill="#089981"/>
<rect x="242.02" y="522.4" width="2.8" height="7.6" fill="#089981"/>
<rect x="246.28" y="513.3" width="1.3" height="11.2" fill="#089981"/>
<rect x="245.53" y="514.4" width="2.8" height="8.0" fill="#089981"/>
<rect x="249.80" y="510.6" width="1.3" height="8.3" fill="#089981"/>
<rect x="249.05" y="511.0" width="2.8" height="3.4" fill="#089981"/>
<rect x="253.32" y="508.9" width="1.3" height="6.8" fill="#089981"/>
<rect x="252.57" y="511.0" width="2.8" height="1.2" fill="#089981"/>
<rect x="256.84" y="510.4" width="1.3" height="8.7" fill="#f5122f"/>
<rect x="256.09" y="511.0" width="2.8" height="6.9" fill="#f5122f"/>
<rect x="260.36" y="507.1" width="1.3" height="11.6" fill="#089981"/>
<rect x="259.61" y="509.6" width="2.8" height="8.3" fill="#089981"/>
<rect x="263.88" y="495.3" width="1.3" height="14.3" fill="#089981"/>
<rect x="263.13" y="497.5" width="2.8" height="12.0" fill="#089981"/>
<rect x="267.40" y="478.3" width="1.3" height="22.8" fill="#f5122f"/>
<rect x="266.65" y="497.5" width="2.8" height="1.2" fill="#f5122f"/>
<rect x="270.92" y="490.2" width="1.3" height="14.9" fill="#089981"/>
<rect x="270.17" y="493.7" width="2.8" height="4.4" fill="#089981"/>
<rect x="274.44" y="482.7" width="1.3" height="19.6" fill="#f5122f"/>
<rect x="273.69" y="493.7" width="2.8" height="7.8" fill="#f5122f"/>
<rect x="277.96" y="496.0" width="1.3" height="12.7" fill="#089981"/>
<rect x="277.21" y="499.3" width="2.8" height="2.2" fill="#089981"/>
<rect x="281.48" y="498.8" width="1.3" height="9.5" fill="#f5122f"/>
<rect x="280.73" y="499.3" width="2.8" height="6.7" fill="#f5122f"/>
<rect x="284.99" y="496.6" width="1.3" height="10.2" fill="#089981"/>
<rect x="284.24" y="497.5" width="2.8" height="8.6" fill="#089981"/>
<rect x="288.51" y="488.3" width="1.3" height="9.2" fill="#089981"/>
<rect x="287.76" y="493.1" width="2.8" height="4.4" fill="#089981"/>
<rect x="292.03" y="492.8" width="1.3" height="13.5" fill="#f5122f"/>
<rect x="291.28" y="493.1" width="2.8" height="7.9" fill="#f5122f"/>
<rect x="295.55" y="496.9" width="1.3" height="7.3" fill="#f5122f"/>
<rect x="294.80" y="501.0" width="2.8" height="1.2" fill="#f5122f"/>
<rect x="299.07" y="499.1" width="1.3" height="7.9" fill="#f5122f"/>
<rect x="298.32" y="502.0" width="2.8" height="2.5" fill="#f5122f"/>
<rect x="302.59" y="497.1" width="1.3" height="7.4" fill="#089981"/>
<rect x="301.84" y="500.4" width="2.8" height="4.1" fill="#089981"/>
<rect x="306.11" y="500.1" width="1.3" height="3.5" fill="#f5122f"/>
<rect x="305.36" y="500.4" width="2.8" height="1.2" fill="#f5122f"/>
<rect x="309.63" y="500.7" width="1.3" height="4.8" fill="#f5122f"/>
<rect x="308.88" y="501.0" width="2.8" height="1.7" fill="#f5122f"/>
<rect x="313.15" y="502.6" width="1.3" height="14.6" fill="#f5122f"/>
<rect x="312.40" y="502.8" width="2.8" height="12.5" fill="#f5122f"/>
<rect x="316.67" y="512.5" width="1.3" height="4.8" fill="#f5122f"/>
<rect x="315.92" y="515.2" width="2.8" height="1.3" fill="#f5122f"/>
<rect x="320.18" y="511.2" width="1.3" height="5.7" fill="#089981"/>
<rect x="319.43" y="513.8" width="2.8" height="2.7" fill="#089981"/>
<rect x="323.70" y="513.0" width="1.3" height="3.3" fill="#f5122f"/>
<rect x="322.95" y="513.8" width="2.8" height="1.2" fill="#f5122f"/>
<rect x="327.22" y="500.1" width="1.3" height="20.0" fill="#089981"/>
<rect x="326.47" y="505.8" width="2.8" height="8.4" fill="#089981"/>
<rect x="330.74" y="503.3" width="1.3" height="6.4" fill="#f5122f"/>
<rect x="329.99" y="505.8" width="2.8" height="2.2" fill="#f5122f"/>
<rect x="334.26" y="506.1" width="1.3" height="5.1" fill="#f5122f"/>
<rect x="333.51" y="508.0" width="2.8" height="2.5" fill="#f5122f"/>
<rect x="337.78" y="508.3" width="1.3" height="7.0" fill="#f5122f"/>
<rect x="337.03" y="510.5" width="2.8" height="2.0" fill="#f5122f"/>
<rect x="341.30" y="512.5" width="1.3" height="12.4" fill="#f5122f"/>
<rect x="340.55" y="512.5" width="2.8" height="10.2" fill="#f5122f"/>
<rect x="344.82" y="516.6" width="1.3" height="8.4" fill="#089981"/>
<rect x="344.07" y="519.5" width="2.8" height="3.2" fill="#089981"/>
<rect x="348.34" y="517.2" width="1.3" height="4.1" fill="#089981"/>
<rect x="347.59" y="518.7" width="2.8" height="1.2" fill="#089981"/>
<rect x="351.86" y="517.9" width="1.3" height="4.1" fill="#f5122f"/>
<rect x="351.11" y="518.7" width="2.8" height="2.7" fill="#f5122f"/>
<rect x="355.37" y="518.7" width="1.3" height="6.8" fill="#089981"/>
<rect x="354.62" y="518.7" width="2.8" height="2.7" fill="#089981"/>
<rect x="358.89" y="517.7" width="1.3" height="3.1" fill="#f5122f"/>
<rect x="358.14" y="518.7" width="2.8" height="1.2" fill="#f5122f"/>
<rect x="362.41" y="518.8" width="1.3" height="4.1" fill="#f5122f"/>
<rect x="361.66" y="519.5" width="2.8" height="1.2" fill="#f5122f"/>
<rect x="365.93" y="512.7" width="1.3" height="7.1" fill="#089981"/>
<rect x="365.18" y="514.5" width="2.8" height="5.3" fill="#089981"/>
<rect x="369.45" y="508.0" width="1.3" height="7.0" fill="#089981"/>
<rect x="368.70" y="511.2" width="2.8" height="3.3" fill="#089981"/>
<rect x="372.97" y="511.2" width="1.3" height="2.8" fill="#f5122f"/>
<rect x="372.22" y="511.2" width="2.8" height="2.2" fill="#f5122f"/>
<rect x="376.49" y="505.5" width="1.3" height="8.3" fill="#089981"/>
<rect x="375.74" y="507.1" width="2.8" height="6.4" fill="#089981"/>
<rect x="380.01" y="502.0" width="1.3" height="6.4" fill="#089981"/>
<rect x="379.26" y="502.0" width="2.8" height="5.1" fill="#089981"/>
<rect x="383.53" y="499.8" width="1.3" height="5.1" fill="#f5122f"/>
<rect x="382.78" y="502.0" width="2.8" height="1.6" fill="#f5122f"/>
<rect x="387.05" y="502.9" width="1.3" height="4.4" fill="#f5122f"/>
<rect x="386.30" y="503.6" width="2.8" height="1.6" fill="#f5122f"/>
<rect x="390.56" y="503.1" width="1.3" height="9.9" fill="#f5122f"/>
<rect x="389.81" y="505.2" width="2.8" height="7.2" fill="#f5122f"/>
<rect x="394.08" y="508.2" width="1.3" height="7.5" fill="#f5122f"/>
<rect x="393.33" y="512.4" width="2.8" height="3.1" fill="#f5122f"/>
<rect x="397.60" y="514.5" width="1.3" height="27.5" fill="#f5122f"/>
<rect x="396.85" y="515.4" width="2.8" height="17.0" fill="#f5122f"/>
<rect x="401.12" y="522.6" width="1.3" height="15.6" fill="#089981"/>
<rect x="400.37" y="529.5" width="2.8" height="2.9" fill="#089981"/>
<rect x="404.64" y="522.3" width="1.3" height="7.3" fill="#089981"/>
<rect x="403.89" y="529.1" width="2.8" height="1.2" fill="#089981"/>
<rect x="408.16" y="520.7" width="1.3" height="8.4" fill="#089981"/>
<rect x="407.41" y="523.5" width="2.8" height="5.7" fill="#089981"/>
<rect x="411.68" y="519.0" width="1.3" height="4.4" fill="#089981"/>
<rect x="410.93" y="522.7" width="2.8" height="1.2" fill="#089981"/>
<rect x="415.20" y="520.1" width="1.3" height="4.8" fill="#089981"/>
<rect x="414.45" y="521.2" width="2.8" height="1.5" fill="#089981"/>
<rect x="418.72" y="517.6" width="1.3" height="5.7" fill="#089981"/>
<rect x="417.97" y="517.6" width="2.8" height="3.6" fill="#089981"/>
<rect x="422.24" y="506.4" width="1.3" height="11.5" fill="#089981"/>
<rect x="421.49" y="510.0" width="2.8" height="7.6" fill="#089981"/>
<rect x="425.75" y="502.6" width="1.3" height="12.3" fill="#f5122f"/>
<rect x="425.00" y="510.0" width="2.8" height="1.2" fill="#f5122f"/>
<rect x="429.27" y="503.6" width="1.3" height="10.8" fill="#089981"/>
<rect x="428.52" y="505.0" width="2.8" height="5.9" fill="#089981"/>
<rect x="432.79" y="503.9" width="1.3" height="7.3" fill="#f5122f"/>
<rect x="432.04" y="505.0" width="2.8" height="6.1" fill="#f5122f"/>
<rect x="436.31" y="504.9" width="1.3" height="6.7" fill="#089981"/>
<rect x="435.56" y="506.4" width="2.8" height="4.6" fill="#089981"/>
<rect x="439.83" y="500.5" width="1.3" height="6.2" fill="#089981"/>
<rect x="439.08" y="504.5" width="2.8" height="1.9" fill="#089981"/>
<rect x="443.35" y="503.3" width="1.3" height="5.4" fill="#f5122f"/>
<rect x="442.60" y="504.5" width="2.8" height="2.7" fill="#f5122f"/>
<rect x="446.87" y="505.5" width="1.3" height="3.8" fill="#f5122f"/>
<rect x="446.12" y="507.2" width="2.8" height="1.2" fill="#f5122f"/>
<rect x="450.39" y="504.2" width="1.3" height="6.4" fill="#f5122f"/>
<rect x="449.64" y="507.4" width="2.8" height="1.2" fill="#f5122f"/>
<rect x="453.91" y="507.4" width="1.3" height="2.5" fill="#f5122f"/>
<rect x="453.16" y="508.5" width="2.8" height="1.2" fill="#f5122f"/>
<rect x="457.43" y="506.4" width="1.3" height="2.5" fill="#089981"/>
<rect x="456.68" y="507.4" width="2.8" height="1.5" fill="#089981"/>
<rect x="460.94" y="507.1" width="1.3" height="2.2" fill="#f5122f"/>
<rect x="460.19" y="507.4" width="2.8" height="1.2" fill="#f5122f"/>
<rect x="464.46" y="502.9" width="1.3" height="5.5" fill="#089981"/>
<rect x="463.71" y="503.4" width="2.8" height="4.8" fill="#089981"/>
<rect x="467.98" y="489.6" width="1.3" height="14.0" fill="#089981"/>
<rect x="467.23" y="496.3" width="2.8" height="7.1" fill="#089981"/>
<rect x="471.50" y="490.9" width="1.3" height="5.4" fill="#089981"/>
<rect x="470.75" y="492.3" width="2.8" height="4.0" fill="#089981"/>
<rect x="475.02" y="489.6" width="1.3" height="6.0" fill="#089981"/>
<rect x="474.27" y="491.2" width="2.8" height="1.2" fill="#089981"/>
<rect x="478.54" y="487.2" width="1.3" height="6.8" fill="#f5122f"/>
<rect x="477.79" y="491.2" width="2.8" height="1.2" fill="#f5122f"/>
<rect x="482.06" y="491.5" width="1.3" height="4.1" fill="#089981"/>
<rect x="481.31" y="492.1" width="2.8" height="1.2" fill="#089981"/>
<rect x="485.58" y="489.9" width="1.3" height="13.7" fill="#f5122f"/>
<rect x="484.83" y="492.1" width="2.8" height="9.3" fill="#f5122f"/>
<rect x="489.10" y="499.3" width="1.3" height="4.3" fill="#089981"/>
<rect x="488.35" y="500.8" width="2.8" height="1.2" fill="#089981"/>
<rect x="492.62" y="495.4" width="1.3" height="6.2" fill="#089981"/>
<rect x="491.87" y="497.1" width="2.8" height="3.7" fill="#089981"/>
<rect x="496.13" y="496.9" width="1.3" height="5.1" fill="#f5122f"/>
<rect x="495.38" y="497.1" width="2.8" height="1.2" fill="#f5122f"/>
<rect x="499.65" y="496.9" width="1.3" height="3.7" fill="#f5122f"/>
<rect x="498.90" y="498.1" width="2.8" height="1.2" fill="#f5122f"/>
<rect x="503.17" y="493.7" width="1.3" height="5.8" fill="#089981"/>
<rect x="502.42" y="494.7" width="2.8" height="4.0" fill="#089981"/>
<rect x="506.69" y="492.1" width="1.3" height="3.2" fill="#089981"/>
<rect x="505.94" y="493.4" width="2.8" height="1.3" fill="#089981"/>
<rect x="510.21" y="481.7" width="1.3" height="12.4" fill="#089981"/>
<rect x="509.46" y="483.7" width="2.8" height="9.7" fill="#089981"/>
<rect x="513.73" y="476.9" width="1.3" height="7.6" fill="#089981"/>
<rect x="512.98" y="478.8" width="2.8" height="4.9" fill="#089981"/>
<rect x="517.25" y="465.1" width="1.3" height="17.5" fill="#089981"/>
<rect x="516.50" y="472.1" width="2.8" height="6.7" fill="#089981"/>
<rect x="520.77" y="461.8" width="1.3" height="10.4" fill="#089981"/>
<rect x="520.02" y="465.1" width="2.8" height="7.1" fill="#089981"/>
<rect x="524.29" y="446.1" width="1.3" height="20.0" fill="#089981"/>
<rect x="523.54" y="449.6" width="2.8" height="15.5" fill="#089981"/>
<rect x="527.81" y="442.9" width="1.3" height="20.7" fill="#f5122f"/>
<rect x="527.06" y="449.6" width="2.8" height="1.4" fill="#f5122f"/>
<rect x="531.32" y="440.0" width="1.3" height="10.9" fill="#089981"/>
<rect x="530.57" y="444.8" width="2.8" height="6.2" fill="#089981"/>
<rect x="534.84" y="443.2" width="1.3" height="11.4" fill="#f5122f"/>
<rect x="534.09" y="444.8" width="2.8" height="1.2" fill="#f5122f"/>
<rect x="538.36" y="412.4" width="1.3" height="33.4" fill="#089981"/>
<rect x="537.61" y="414.9" width="2.8" height="30.5" fill="#089981"/>
<rect x="541.88" y="386.0" width="1.3" height="41.3" fill="#089981"/>
<rect x="541.13" y="399.7" width="2.8" height="15.3" fill="#089981"/>
<rect x="545.40" y="345.3" width="1.3" height="55.3" fill="#089981"/>
<rect x="544.65" y="357.1" width="2.8" height="42.6" fill="#089981"/>
<rect x="548.92" y="300.2" width="1.3" height="90.2" fill="#089981"/>
<rect x="548.17" y="323.7" width="2.8" height="33.4" fill="#089981"/>
<rect x="552.44" y="311.6" width="1.3" height="62.3" fill="#f5122f"/>
<rect x="551.69" y="323.7" width="2.8" height="14.0" fill="#f5122f"/>
<rect x="555.96" y="325.9" width="1.3" height="57.5" fill="#f5122f"/>
<rect x="555.21" y="337.7" width="2.8" height="23.5" fill="#f5122f"/>
<rect x="559.48" y="321.8" width="1.3" height="58.5" fill="#089981"/>
<rect x="558.73" y="356.1" width="2.8" height="5.1" fill="#089981"/>
<rect x="563.00" y="306.6" width="1.3" height="54.7" fill="#089981"/>
<rect x="562.25" y="319.9" width="2.8" height="36.2" fill="#089981"/>
<rect x="566.51" y="250.6" width="1.3" height="78.2" fill="#089981"/>
<rect x="565.76" y="257.0" width="2.8" height="62.9" fill="#089981"/>
<rect x="570.03" y="196.0" width="1.3" height="71.8" fill="#089981"/>
<rect x="569.28" y="201.1" width="2.8" height="55.9" fill="#089981"/>
<rect x="573.55" y="201.1" width="1.3" height="92.2" fill="#f5122f"/>
<rect x="572.80" y="201.1" width="2.8" height="78.8" fill="#f5122f"/>
<rect x="577.07" y="232.2" width="1.3" height="48.9" fill="#089981"/>
<rect x="576.32" y="242.4" width="2.8" height="37.5" fill="#089981"/>
<rect x="580.59" y="174.4" width="1.3" height="78.8" fill="#089981"/>
<rect x="579.84" y="191.5" width="2.8" height="50.8" fill="#089981"/>
<rect x="584.11" y="184.5" width="1.3" height="43.2" fill="#f5122f"/>
<rect x="583.36" y="191.5" width="2.8" height="10.8" fill="#f5122f"/>
<rect x="587.63" y="194.7" width="1.3" height="52.1" fill="#f5122f"/>
<rect x="586.88" y="202.3" width="2.8" height="9.5" fill="#f5122f"/>
<rect x="591.15" y="185.2" width="1.3" height="33.0" fill="#089981"/>
<rect x="590.40" y="197.9" width="2.8" height="14.0" fill="#089981"/>
<rect x="594.67" y="176.9" width="1.3" height="36.9" fill="#089981"/>
<rect x="593.92" y="186.4" width="2.8" height="11.4" fill="#089981"/>
<rect x="598.19" y="154.0" width="1.3" height="85.2" fill="#f5122f"/>
<rect x="597.44" y="186.4" width="2.8" height="22.9" fill="#f5122f"/>
<rect x="601.70" y="201.1" width="1.3" height="66.7" fill="#f5122f"/>
<rect x="600.95" y="209.3" width="2.8" height="45.8" fill="#f5122f"/>
<rect x="605.22" y="197.9" width="1.3" height="58.5" fill="#089981"/>
<rect x="604.47" y="206.8" width="2.8" height="48.3" fill="#089981"/>
<rect x="608.74" y="188.3" width="1.3" height="41.3" fill="#089981"/>
<rect x="607.99" y="196.6" width="2.8" height="10.2" fill="#089981"/>
<rect x="612.26" y="187.7" width="1.3" height="100.4" fill="#f5122f"/>
<rect x="611.51" y="196.6" width="2.8" height="75.0" fill="#f5122f"/>
<rect x="615.78" y="270.3" width="1.3" height="105.5" fill="#f5122f"/>
<rect x="615.03" y="271.6" width="2.8" height="74.4" fill="#f5122f"/>
<rect x="619.30" y="306.6" width="1.3" height="47.7" fill="#089981"/>
<rect x="618.55" y="340.2" width="2.8" height="5.7" fill="#089981"/>
<rect x="622.82" y="315.5" width="1.3" height="29.9" fill="#089981"/>
<rect x="622.07" y="339.0" width="2.8" height="1.3" fill="#089981"/>
<rect x="626.34" y="314.8" width="1.3" height="54.7" fill="#089981"/>
<rect x="625.59" y="318.0" width="2.8" height="21.0" fill="#089981"/>
<rect x="629.86" y="304.0" width="1.3" height="50.8" fill="#f5122f"/>
<rect x="629.11" y="318.0" width="2.8" height="22.2" fill="#f5122f"/>
<rect x="633.38" y="339.6" width="1.3" height="43.9" fill="#f5122f"/>
<rect x="632.63" y="340.2" width="2.8" height="5.7" fill="#f5122f"/>
<rect x="636.89" y="333.9" width="1.3" height="24.8" fill="#089981"/>
<rect x="636.14" y="342.1" width="2.8" height="3.8" fill="#089981"/>
<rect x="640.41" y="342.1" width="1.3" height="20.3" fill="#f5122f"/>
<rect x="639.66" y="342.1" width="2.8" height="7.0" fill="#f5122f"/>
<rect x="643.93" y="346.6" width="1.3" height="22.9" fill="#f5122f"/>
<rect x="643.18" y="349.1" width="2.8" height="15.3" fill="#f5122f"/>
<rect x="647.45" y="341.5" width="1.3" height="38.8" fill="#089981"/>
<rect x="646.70" y="341.5" width="2.8" height="22.9" fill="#089981"/>
<rect x="650.97" y="295.8" width="1.3" height="45.8" fill="#089981"/>
<rect x="650.22" y="313.5" width="2.8" height="28.0" fill="#089981"/>
<rect x="654.49" y="278.6" width="1.3" height="49.6" fill="#089981"/>
<rect x="653.74" y="288.1" width="2.8" height="25.4" fill="#089981"/>
<rect x="658.01" y="260.8" width="1.3" height="33.7" fill="#089981"/>
<rect x="657.26" y="267.8" width="2.8" height="20.3" fill="#089981"/>
<rect x="661.53" y="253.2" width="1.3" height="34.3" fill="#089981"/>
<rect x="660.78" y="253.2" width="2.8" height="14.6" fill="#089981"/>
<rect x="665.05" y="245.5" width="1.3" height="26.7" fill="#f5122f"/>
<rect x="664.30" y="253.2" width="2.8" height="3.2" fill="#f5122f"/>
<rect x="668.57" y="236.6" width="1.3" height="33.0" fill="#089981"/>
<rect x="667.82" y="237.9" width="2.8" height="18.4" fill="#089981"/>
<rect x="672.08" y="230.3" width="1.3" height="64.2" fill="#f5122f"/>
<rect x="671.33" y="237.9" width="2.8" height="36.2" fill="#f5122f"/>
<rect x="675.60" y="256.3" width="1.3" height="34.3" fill="#089981"/>
<rect x="674.85" y="266.5" width="2.8" height="7.6" fill="#089981"/>
<rect x="679.12" y="265.9" width="1.3" height="48.9" fill="#f5122f"/>
<rect x="678.37" y="266.5" width="2.8" height="25.4" fill="#f5122f"/>
<rect x="682.64" y="253.8" width="1.3" height="53.4" fill="#089981"/>
<rect x="681.89" y="260.2" width="2.8" height="31.8" fill="#089981"/>
<rect x="686.16" y="207.4" width="1.3" height="61.0" fill="#089981"/>
<rect x="685.41" y="218.8" width="2.8" height="41.3" fill="#089981"/>
<rect x="689.68" y="172.5" width="1.3" height="48.3" fill="#089981"/>
<rect x="688.93" y="175.6" width="2.8" height="43.2" fill="#089981"/>
<rect x="693.20" y="140.7" width="1.3" height="47.0" fill="#f5122f"/>
<rect x="692.45" y="175.6" width="2.8" height="3.8" fill="#f5122f"/>
<rect x="696.72" y="161.6" width="1.3" height="37.5" fill="#089981"/>
<rect x="695.97" y="176.9" width="2.8" height="2.5" fill="#089981"/>
<rect x="700.24" y="158.5" width="1.3" height="29.9" fill="#089981"/>
<rect x="699.49" y="164.2" width="2.8" height="12.7" fill="#089981"/>
<rect x="703.76" y="128.0" width="1.3" height="42.6" fill="#089981"/>
<rect x="703.01" y="150.2" width="2.8" height="14.0" fill="#089981"/>
<rect x="707.27" y="145.1" width="1.3" height="67.4" fill="#f5122f"/>
<rect x="706.52" y="150.2" width="2.8" height="43.2" fill="#f5122f"/>
<rect x="710.79" y="189.6" width="1.3" height="36.9" fill="#f5122f"/>
<rect x="710.04" y="193.4" width="2.8" height="9.5" fill="#f5122f"/>
<rect x="714.31" y="189.6" width="1.3" height="110.0" fill="#f5122f"/>
<rect x="713.56" y="203.0" width="2.8" height="49.6" fill="#f5122f"/>
<rect x="717.83" y="236.6" width="1.3" height="31.1" fill="#089981"/>
<rect x="717.08" y="248.1" width="2.8" height="4.4" fill="#089981"/>
<rect x="721.35" y="246.8" width="1.3" height="30.5" fill="#f5122f"/>
<rect x="720.60" y="248.1" width="2.8" height="21.6" fill="#f5122f"/>
<rect x="724.87" y="236.6" width="1.3" height="40.0" fill="#089981"/>
<rect x="724.12" y="243.6" width="2.8" height="26.1" fill="#089981"/>
<rect x="728.39" y="235.4" width="1.3" height="40.0" fill="#f5122f"/>
<rect x="727.64" y="243.6" width="2.8" height="22.2" fill="#f5122f"/>
<rect x="731.91" y="264.6" width="1.3" height="43.9" fill="#f5122f"/>
<rect x="731.16" y="265.9" width="2.8" height="35.0" fill="#f5122f"/>
<rect x="735.43" y="283.7" width="1.3" height="31.8" fill="#089981"/>
<rect x="734.68" y="292.6" width="2.8" height="8.3" fill="#089981"/>
<rect x="738.95" y="290.0" width="1.3" height="60.4" fill="#f5122f"/>
<rect x="738.20" y="292.6" width="2.8" height="43.2" fill="#f5122f"/>
<rect x="742.46" y="319.3" width="1.3" height="38.1" fill="#089981"/>
<rect x="741.71" y="325.6" width="2.8" height="10.2" fill="#089981"/>
<rect x="745.98" y="295.8" width="1.3" height="40.7" fill="#089981"/>
<rect x="745.23" y="297.0" width="2.8" height="28.6" fill="#089981"/>
<rect x="749.50" y="275.4" width="1.3" height="26.1" fill="#f5122f"/>
<rect x="748.75" y="297.0" width="2.8" height="1.3" fill="#f5122f"/>
<rect x="753.02" y="282.4" width="1.3" height="42.6" fill="#f5122f"/>
<rect x="752.27" y="298.3" width="2.8" height="24.2" fill="#f5122f"/>
<rect x="756.54" y="313.5" width="1.3" height="35.0" fill="#f5122f"/>
<rect x="755.79" y="322.4" width="2.8" height="4.4" fill="#f5122f"/>
<rect x="760.06" y="278.0" width="1.3" height="49.6" fill="#089981"/>
<rect x="759.31" y="322.4" width="2.8" height="4.4" fill="#089981"/>
<rect x="763.58" y="296.4" width="1.3" height="33.7" fill="#f5122f"/>
<rect x="762.83" y="322.4" width="2.8" height="3.8" fill="#f5122f"/>
<rect x="767.10" y="297.7" width="1.3" height="29.9" fill="#089981"/>
<rect x="766.35" y="304.0" width="2.8" height="22.2" fill="#089981"/>
<rect x="770.62" y="267.8" width="1.3" height="41.3" fill="#089981"/>
<rect x="769.87" y="269.1" width="2.8" height="35.0" fill="#089981"/>
<rect x="774.14" y="260.2" width="1.3" height="25.4" fill="#f5122f"/>
<rect x="773.39" y="269.1" width="2.8" height="2.5" fill="#f5122f"/>
<rect x="777.65" y="267.8" width="1.3" height="32.4" fill="#f5122f"/>
<rect x="776.90" y="271.6" width="2.8" height="26.7" fill="#f5122f"/>
<rect x="781.17" y="297.0" width="1.3" height="20.3" fill="#f5122f"/>
<rect x="780.42" y="298.3" width="2.8" height="15.9" fill="#f5122f"/>
<rect x="784.69" y="293.8" width="1.3" height="27.3" fill="#f5122f"/>
<rect x="783.94" y="314.2" width="2.8" height="1.3" fill="#f5122f"/>
<rect x="788.21" y="307.2" width="1.3" height="20.3" fill="#f5122f"/>
<rect x="787.46" y="315.5" width="2.8" height="6.4" fill="#f5122f"/>
<rect x="791.73" y="312.3" width="1.3" height="40.0" fill="#f5122f"/>
<rect x="790.98" y="321.8" width="2.8" height="28.0" fill="#f5122f"/>
<rect x="795.25" y="348.5" width="1.3" height="56.6" fill="#f5122f"/>
<rect x="794.50" y="349.8" width="2.8" height="17.8" fill="#f5122f"/>
<rect x="798.77" y="366.9" width="1.3" height="17.2" fill="#f5122f"/>
<rect x="798.02" y="367.6" width="2.8" height="6.4" fill="#f5122f"/>
<rect x="802.29" y="372.0" width="1.3" height="16.5" fill="#f5122f"/>
<rect x="801.54" y="373.9" width="2.8" height="5.7" fill="#f5122f"/>
<rect x="805.81" y="361.8" width="1.3" height="18.4" fill="#089981"/>
<rect x="805.06" y="377.1" width="2.8" height="2.5" fill="#089981"/>
<rect x="809.33" y="364.4" width="1.3" height="33.0" fill="#f5122f"/>
<rect x="808.58" y="377.1" width="2.8" height="20.3" fill="#f5122f"/>
<rect x="812.84" y="395.5" width="1.3" height="59.1" fill="#f5122f"/>
<rect x="812.09" y="397.4" width="2.8" height="38.8" fill="#f5122f"/>
<rect x="816.36" y="427.3" width="1.3" height="14.0" fill="#089981"/>
<rect x="815.61" y="433.0" width="2.8" height="3.2" fill="#089981"/>
<rect x="819.88" y="429.9" width="1.3" height="18.4" fill="#f5122f"/>
<rect x="819.13" y="433.0" width="2.8" height="10.8" fill="#f5122f"/>
<rect x="823.40" y="423.5" width="1.3" height="22.2" fill="#089981"/>
<rect x="822.65" y="434.3" width="2.8" height="9.5" fill="#089981"/>
<rect x="826.92" y="429.2" width="1.3" height="17.2" fill="#089981"/>
<rect x="826.17" y="434.3" width="2.8" height="1.2" fill="#089981"/>
<rect x="830.44" y="412.1" width="1.3" height="22.2" fill="#089981"/>
<rect x="829.69" y="422.9" width="2.8" height="11.4" fill="#089981"/>
<rect x="833.96" y="409.5" width="1.3" height="25.4" fill="#089981"/>
<rect x="833.21" y="418.4" width="2.8" height="4.4" fill="#089981"/>
<rect x="837.48" y="415.9" width="1.3" height="8.3" fill="#f5122f"/>
<rect x="836.73" y="418.4" width="2.8" height="1.2" fill="#f5122f"/>
<rect x="841.00" y="406.3" width="1.3" height="15.9" fill="#089981"/>
<rect x="840.25" y="412.1" width="2.8" height="7.0" fill="#089981"/>
<rect x="844.52" y="411.4" width="1.3" height="22.9" fill="#f5122f"/>
<rect x="843.77" y="412.1" width="2.8" height="17.8" fill="#f5122f"/>
<rect x="848.03" y="427.3" width="1.3" height="12.7" fill="#f5122f"/>
<rect x="847.28" y="429.9" width="2.8" height="9.5" fill="#f5122f"/>
<rect x="851.55" y="435.6" width="1.3" height="7.0" fill="#f5122f"/>
<rect x="850.80" y="439.4" width="2.8" height="1.2" fill="#f5122f"/>
<rect x="855.07" y="427.9" width="1.3" height="21.0" fill="#089981"/>
<rect x="854.32" y="427.9" width="2.8" height="12.1" fill="#089981"/>
<rect x="858.59" y="422.2" width="1.3" height="21.6" fill="#f5122f"/>
<rect x="857.84" y="427.9" width="2.8" height="15.3" fill="#f5122f"/>
<rect x="862.11" y="441.3" width="1.3" height="10.2" fill="#f5122f"/>
<rect x="861.36" y="443.2" width="2.8" height="3.8" fill="#f5122f"/>
<rect x="865.63" y="436.8" width="1.3" height="12.1" fill="#089981"/>
<rect x="864.88" y="443.8" width="2.8" height="3.2" fill="#089981"/>
<rect x="869.15" y="436.2" width="1.3" height="9.5" fill="#089981"/>
<rect x="868.40" y="443.2" width="2.8" height="1.2" fill="#089981"/>
<rect x="872.67" y="441.3" width="1.3" height="9.5" fill="#f5122f"/>
<rect x="871.92" y="443.2" width="2.8" height="1.3" fill="#f5122f"/>
<rect x="876.19" y="441.3" width="1.3" height="6.4" fill="#089981"/>
<rect x="875.44" y="441.9" width="2.8" height="2.5" fill="#089981"/>
<rect x="879.71" y="433.0" width="1.3" height="11.4" fill="#089981"/>
<rect x="878.96" y="435.6" width="2.8" height="6.4" fill="#089981"/>
<rect x="883.22" y="429.9" width="1.3" height="9.5" fill="#089981"/>
<rect x="882.47" y="431.1" width="2.8" height="4.4" fill="#089981"/>
<rect x="886.74" y="431.1" width="1.3" height="36.2" fill="#f5122f"/>
<rect x="885.99" y="431.1" width="2.8" height="31.8" fill="#f5122f"/>
<rect x="890.26" y="457.2" width="1.3" height="7.6" fill="#089981"/>
<rect x="889.51" y="462.9" width="2.8" height="1.2" fill="#089981"/>
<rect x="893.78" y="459.7" width="1.3" height="8.3" fill="#089981"/>
<rect x="893.03" y="461.6" width="2.8" height="1.3" fill="#089981"/>
<rect x="897.30" y="455.9" width="1.3" height="8.9" fill="#089981"/>
<rect x="896.55" y="457.8" width="2.8" height="3.8" fill="#089981"/>
<rect x="900.82" y="455.9" width="1.3" height="4.4" fill="#089981"/>
<rect x="900.07" y="457.8" width="2.8" height="1.2" fill="#089981"/>
<rect x="904.34" y="449.6" width="1.3" height="12.1" fill="#f5122f"/>
<rect x="903.59" y="457.8" width="2.8" height="2.2" fill="#f5122f"/>
<rect x="907.86" y="457.8" width="1.3" height="5.1" fill="#089981"/>
<rect x="907.11" y="459.4" width="2.8" height="1.2" fill="#089981"/>
<rect x="911.38" y="458.8" width="1.3" height="3.8" fill="#f5122f"/>
<rect x="910.63" y="459.4" width="2.8" height="1.6" fill="#f5122f"/>
<rect x="914.90" y="457.2" width="1.3" height="3.8" fill="#089981"/>
<rect x="914.15" y="457.8" width="2.8" height="3.2" fill="#089981"/>
<rect x="918.41" y="431.4" width="1.3" height="26.4" fill="#089981"/>
<rect x="917.66" y="433.7" width="2.8" height="24.2" fill="#089981"/>
<rect x="921.93" y="418.4" width="1.3" height="18.1" fill="#089981"/>
<rect x="921.18" y="422.2" width="2.8" height="11.4" fill="#089981"/>
<rect x="925.45" y="414.3" width="1.3" height="10.5" fill="#089981"/>
<rect x="924.70" y="415.6" width="2.8" height="6.7" fill="#089981"/>
<rect x="928.97" y="412.4" width="1.3" height="11.1" fill="#f5122f"/>
<rect x="928.22" y="415.6" width="2.8" height="5.1" fill="#f5122f"/>
<rect x="932.49" y="417.8" width="1.3" height="13.0" fill="#f5122f"/>
<rect x="931.74" y="420.6" width="2.8" height="7.3" fill="#f5122f"/>
<rect x="936.01" y="406.0" width="1.3" height="24.5" fill="#089981"/>
<rect x="935.26" y="410.2" width="2.8" height="17.8" fill="#089981"/>
<rect x="939.53" y="407.0" width="1.3" height="12.7" fill="#f5122f"/>
<rect x="938.78" y="410.2" width="2.8" height="6.7" fill="#f5122f"/>
<rect x="943.05" y="414.6" width="1.3" height="12.4" fill="#f5122f"/>
<rect x="942.30" y="416.8" width="2.8" height="7.3" fill="#f5122f"/>
<rect x="946.57" y="422.9" width="1.3" height="19.4" fill="#f5122f"/>
<rect x="945.82" y="424.1" width="2.8" height="11.4" fill="#f5122f"/>
<rect x="950.09" y="386.0" width="1.3" height="50.2" fill="#089981"/>
<rect x="949.34" y="388.5" width="2.8" height="47.0" fill="#089981"/>
<rect x="953.60" y="382.8" width="1.3" height="14.6" fill="#f5122f"/>
<rect x="952.85" y="388.5" width="2.8" height="3.2" fill="#f5122f"/>
<rect x="957.12" y="380.9" width="1.3" height="17.2" fill="#089981"/>
<rect x="956.37" y="385.7" width="2.8" height="6.0" fill="#089981"/>
<rect x="960.64" y="383.5" width="1.3" height="10.2" fill="#f5122f"/>
<rect x="959.89" y="385.7" width="2.8" height="1.2" fill="#f5122f"/>
<rect x="964.16" y="369.5" width="1.3" height="17.8" fill="#089981"/>
<rect x="963.41" y="373.9" width="2.8" height="12.7" fill="#089981"/>
<rect x="967.68" y="372.7" width="1.3" height="21.3" fill="#f5122f"/>
<rect x="966.93" y="373.9" width="2.8" height="17.2" fill="#f5122f"/>
<rect x="971.20" y="375.5" width="1.3" height="20.0" fill="#089981"/>
<rect x="970.45" y="380.6" width="2.8" height="10.5" fill="#089981"/>
<rect x="974.72" y="377.1" width="1.3" height="13.3" fill="#f5122f"/>
<rect x="973.97" y="380.6" width="2.8" height="2.5" fill="#f5122f"/>
<rect x="978.24" y="383.1" width="1.3" height="19.4" fill="#f5122f"/>
<rect x="977.49" y="383.1" width="2.8" height="12.4" fill="#f5122f"/>
<rect x="981.76" y="391.1" width="1.3" height="7.9" fill="#f5122f"/>
<rect x="981.01" y="395.5" width="2.8" height="1.2" fill="#f5122f"/>
<rect x="985.28" y="387.3" width="1.3" height="14.6" fill="#089981"/>
<rect x="984.53" y="388.2" width="2.8" height="8.3" fill="#089981"/>
<rect x="988.79" y="385.7" width="1.3" height="12.4" fill="#f5122f"/>
<rect x="988.04" y="388.2" width="2.8" height="5.4" fill="#f5122f"/>
<rect x="992.31" y="392.4" width="1.3" height="13.0" fill="#f5122f"/>
<rect x="991.56" y="393.6" width="2.8" height="8.6" fill="#f5122f"/>
<rect x="995.83" y="396.2" width="1.3" height="12.7" fill="#089981"/>
<rect x="995.08" y="399.0" width="2.8" height="3.2" fill="#089981"/>
<rect x="999.35" y="366.9" width="1.3" height="32.7" fill="#089981"/>
<rect x="998.60" y="372.7" width="2.8" height="26.4" fill="#089981"/>
<rect x="1002.87" y="367.6" width="1.3" height="11.1" fill="#089981"/>
<rect x="1002.12" y="372.0" width="2.8" height="1.2" fill="#089981"/>
<rect x="1006.39" y="366.9" width="1.3" height="10.5" fill="#f5122f"/>
<rect x="1005.64" y="372.0" width="2.8" height="2.9" fill="#f5122f"/>
<rect x="1009.91" y="364.4" width="1.3" height="11.8" fill="#089981"/>
<rect x="1009.16" y="374.2" width="2.8" height="1.2" fill="#089981"/>
<rect x="1013.43" y="373.3" width="1.3" height="5.4" fill="#f5122f"/>
<rect x="1012.68" y="374.2" width="2.8" height="2.9" fill="#f5122f"/>
<rect x="1016.95" y="377.1" width="1.3" height="6.0" fill="#f5122f"/>
<rect x="1016.20" y="377.1" width="2.8" height="3.2" fill="#f5122f"/>
<rect x="1020.47" y="377.1" width="1.3" height="7.6" fill="#f5122f"/>
<rect x="1019.72" y="380.3" width="2.8" height="1.6" fill="#f5122f"/>
<rect x="1023.98" y="374.2" width="1.3" height="9.5" fill="#089981"/>
<rect x="1023.23" y="380.3" width="2.8" height="1.6" fill="#089981"/>
<rect x="1027.50" y="377.7" width="1.3" height="28.0" fill="#f5122f"/>
<rect x="1026.75" y="380.3" width="2.8" height="20.3" fill="#f5122f"/>
<rect x="1031.02" y="396.2" width="1.3" height="6.4" fill="#f5122f"/>
<rect x="1030.27" y="400.6" width="2.8" height="1.2" fill="#f5122f"/>
<rect x="1034.54" y="387.3" width="1.3" height="18.1" fill="#f5122f"/>
<rect x="1033.79" y="401.3" width="2.8" height="1.2" fill="#f5122f"/>
<rect x="1038.06" y="400.6" width="1.3" height="4.8" fill="#089981"/>
<rect x="1037.31" y="402.2" width="2.8" height="1.2" fill="#089981"/>
<rect x="1041.58" y="395.2" width="1.3" height="13.0" fill="#089981"/>
<rect x="1040.83" y="398.1" width="2.8" height="4.1" fill="#089981"/>
<rect x="1045.10" y="392.0" width="1.3" height="9.2" fill="#f5122f"/>
<rect x="1044.35" y="398.1" width="2.8" height="1.6" fill="#f5122f"/>
<rect x="1048.62" y="388.5" width="1.3" height="12.7" fill="#089981"/>
<rect x="1047.87" y="388.9" width="2.8" height="10.8" fill="#089981"/>
<rect x="1052.14" y="384.7" width="1.3" height="8.9" fill="#089981"/>
<rect x="1051.39" y="388.9" width="2.8" height="1.2" fill="#089981"/>
<rect x="1055.65" y="388.5" width="1.3" height="9.2" fill="#f5122f"/>
<rect x="1054.90" y="388.9" width="2.8" height="7.0" fill="#f5122f"/>
<rect x="1059.17" y="373.6" width="1.3" height="22.2" fill="#089981"/>
<rect x="1058.42" y="376.5" width="2.8" height="19.4" fill="#089981"/>
<rect x="1062.69" y="344.1" width="1.3" height="32.7" fill="#089981"/>
<rect x="1061.94" y="347.2" width="2.8" height="29.2" fill="#089981"/>
<rect x="1066.21" y="338.0" width="1.3" height="11.8" fill="#089981"/>
<rect x="1065.46" y="343.8" width="2.8" height="3.5" fill="#089981"/>
<rect x="1069.73" y="342.8" width="1.3" height="2.8" fill="#089981"/>
<rect x="1068.98" y="342.8" width="2.8" height="1.2" fill="#089981"/>
<line x1="18.4" y1="342.8" x2="1387" y2="342.8" stroke="#089981" stroke-width="1.2" stroke-dasharray="1.2 3.53"/>
<path d="M1173.5,186.6 L1182.6,230.5 L1173.2,225.4 Q1150,270 1122.8,327 Q1135,270 1148.9,216 L1138.2,215.1 Z" fill="#f23645"/>
<rect x="585.70" y="183.4" width="4.4" height="4.4" fill="#9123a8"/>
<rect x="599.90" y="183.4" width="4.4" height="4.4" fill="#9123a8"/>
<rect x="614.10" y="183.4" width="4.4" height="4.4" fill="#9123a8"/>
<rect x="628.30" y="183.4" width="4.4" height="4.4" fill="#9123a8"/>
<rect x="642.50" y="183.4" width="4.4" height="4.4" fill="#9123a8"/>
<rect x="656.70" y="183.4" width="4.4" height="4.4" fill="#9123a8"/>
<rect x="670.90" y="183.4" width="4.4" height="4.4" fill="#9123a8"/>
<rect x="685.10" y="183.4" width="4.4" height="4.4" fill="#9123a8"/>
<rect x="699.30" y="183.4" width="4.4" height="4.4" fill="#9123a8"/>
<rect x="713.50" y="183.4" width="4.4" height="4.4" fill="#9123a8"/>
<rect x="727.70" y="183.4" width="4.4" height="4.4" fill="#9123a8"/>
<rect x="741.90" y="183.4" width="4.4" height="4.4" fill="#9123a8"/>
<rect x="756.10" y="183.4" width="4.4" height="4.4" fill="#9123a8"/>
<rect x="770.30" y="183.4" width="4.4" height="4.4" fill="#9123a8"/>
<rect x="784.50" y="183.4" width="4.4" height="4.4" fill="#9123a8"/>
<rect x="798.70" y="183.4" width="4.4" height="4.4" fill="#9123a8"/>
<rect x="812.90" y="183.4" width="4.4" height="4.4" fill="#9123a8"/>
<rect x="827.10" y="183.4" width="4.4" height="4.4" fill="#9123a8"/>
<rect x="841.30" y="183.4" width="4.4" height="4.4" fill="#9123a8"/>
<rect x="855.50" y="183.4" width="4.4" height="4.4" fill="#9123a8"/>
<rect x="869.70" y="183.4" width="4.4" height="4.4" fill="#9123a8"/>
<rect x="883.90" y="183.4" width="4.4" height="4.4" fill="#9123a8"/>
<rect x="898.10" y="183.4" width="4.4" height="4.4" fill="#9123a8"/>
<rect x="912.30" y="183.4" width="4.4" height="4.4" fill="#9123a8"/>
<rect x="926.50" y="183.4" width="4.4" height="4.4" fill="#9123a8"/>
<rect x="940.70" y="183.4" width="4.4" height="4.4" fill="#9123a8"/>
<rect x="954.90" y="183.4" width="4.4" height="4.4" fill="#9123a8"/>
<rect x="969.10" y="183.4" width="4.4" height="4.4" fill="#9123a8"/>
<rect x="983.30" y="183.4" width="4.4" height="4.4" fill="#9123a8"/>
<rect x="997.50" y="183.4" width="4.4" height="4.4" fill="#9123a8"/>
<rect x="1011.70" y="183.4" width="4.4" height="4.4" fill="#9123a8"/>
<rect x="1025.90" y="183.4" width="4.4" height="4.4" fill="#9123a8"/>
<rect x="1040.10" y="183.4" width="4.4" height="4.4" fill="#9123a8"/>
<rect x="1054.30" y="183.4" width="4.4" height="4.4" fill="#9123a8"/>
<rect x="1068.50" y="183.4" width="4.4" height="4.4" fill="#9123a8"/>
<rect x="1082.70" y="183.4" width="4.4" height="4.4" fill="#9123a8"/>
<rect x="1096.90" y="183.4" width="4.4" height="4.4" fill="#9123a8"/>
<rect x="1111.10" y="183.4" width="4.4" height="4.4" fill="#9123a8"/>
<rect x="1125.30" y="183.4" width="4.4" height="4.4" fill="#9123a8"/>
<rect x="1139.50" y="183.4" width="4.4" height="4.4" fill="#9123a8"/>
<rect x="1153.70" y="183.4" width="4.4" height="4.4" fill="#9123a8"/>
<rect x="1167.90" y="183.4" width="4.4" height="4.4" fill="#9123a8"/>
<rect x="1182.10" y="183.4" width="4.4" height="4.4" fill="#9123a8"/>
<rect x="1196.30" y="183.4" width="4.4" height="4.4" fill="#9123a8"/>
<rect x="1210.50" y="183.4" width="4.4" height="4.4" fill="#9123a8"/>
<rect x="1224.70" y="183.4" width="4.4" height="4.4" fill="#9123a8"/>
<rect x="1238.90" y="183.4" width="4.4" height="4.4" fill="#9123a8"/>
<rect x="1253.10" y="183.4" width="4.4" height="4.4" fill="#9123a8"/>
<rect x="1267.30" y="183.4" width="4.4" height="4.4" fill="#9123a8"/>
<rect x="1281.50" y="183.4" width="4.4" height="4.4" fill="#9123a8"/>
<rect x="1295.70" y="183.4" width="4.4" height="4.4" fill="#9123a8"/>
<rect x="1309.90" y="183.4" width="4.4" height="4.4" fill="#9123a8"/>
<rect x="1324.10" y="183.4" width="4.4" height="4.4" fill="#9123a8"/>
<rect x="1338.30" y="183.4" width="4.4" height="4.4" fill="#9123a8"/>
<rect x="1352.50" y="183.4" width="4.4" height="4.4" fill="#9123a8"/>
<rect x="1366.70" y="183.4" width="4.4" height="4.4" fill="#9123a8"/>
<rect x="1380.90" y="183.4" width="4.4" height="4.4" fill="#9123a8"/>
<rect x="1395.10" y="183.4" width="4.4" height="4.4" fill="#9123a8"/>
<rect x="1409.30" y="183.4" width="4.4" height="4.4" fill="#9123a8"/>
<rect x="1423.50" y="183.4" width="4.4" height="4.4" fill="#9123a8"/>
<rect x="698.20" y="265.5" width="4.4" height="4.4" fill="#9123a8"/>
<rect x="712.40" y="265.5" width="4.4" height="4.4" fill="#9123a8"/>
<rect x="726.60" y="265.5" width="4.4" height="4.4" fill="#9123a8"/>
<rect x="740.80" y="265.5" width="4.4" height="4.4" fill="#9123a8"/>
<rect x="755.00" y="265.5" width="4.4" height="4.4" fill="#9123a8"/>
<rect x="769.20" y="265.5" width="4.4" height="4.4" fill="#9123a8"/>
<rect x="783.40" y="265.5" width="4.4" height="4.4" fill="#9123a8"/>
<rect x="797.60" y="265.5" width="4.4" height="4.4" fill="#9123a8"/>
<rect x="811.80" y="265.5" width="4.4" height="4.4" fill="#9123a8"/>
<rect x="826.00" y="265.5" width="4.4" height="4.4" fill="#9123a8"/>
<rect x="840.20" y="265.5" width="4.4" height="4.4" fill="#9123a8"/>
<rect x="854.40" y="265.5" width="4.4" height="4.4" fill="#9123a8"/>
<rect x="868.60" y="265.5" width="4.4" height="4.4" fill="#9123a8"/>
<rect x="882.80" y="265.5" width="4.4" height="4.4" fill="#9123a8"/>
<rect x="897.00" y="265.5" width="4.4" height="4.4" fill="#9123a8"/>
<rect x="911.20" y="265.5" width="4.4" height="4.4" fill="#9123a8"/>
<rect x="925.40" y="265.5" width="4.4" height="4.4" fill="#9123a8"/>
<rect x="939.60" y="265.5" width="4.4" height="4.4" fill="#9123a8"/>
<rect x="953.80" y="265.5" width="4.4" height="4.4" fill="#9123a8"/>
<rect x="968.00" y="265.5" width="4.4" height="4.4" fill="#9123a8"/>
<rect x="982.20" y="265.5" width="4.4" height="4.4" fill="#9123a8"/>
<rect x="996.40" y="265.5" width="4.4" height="4.4" fill="#9123a8"/>
<rect x="1010.60" y="265.5" width="4.4" height="4.4" fill="#9123a8"/>
<rect x="1024.80" y="265.5" width="4.4" height="4.4" fill="#9123a8"/>
<rect x="1039.00" y="265.5" width="4.4" height="4.4" fill="#9123a8"/>
<rect x="1053.20" y="265.5" width="4.4" height="4.4" fill="#9123a8"/>
<rect x="1067.40" y="265.5" width="4.4" height="4.4" fill="#9123a8"/>
<rect x="1081.60" y="265.5" width="4.4" height="4.4" fill="#9123a8"/>
<rect x="1095.80" y="265.5" width="4.4" height="4.4" fill="#9123a8"/>
<rect x="1110.00" y="265.5" width="4.4" height="4.4" fill="#9123a8"/>
<rect x="1124.20" y="265.5" width="4.4" height="4.4" fill="#9123a8"/>
<rect x="1138.40" y="265.5" width="4.4" height="4.4" fill="#9123a8"/>
<rect x="1152.60" y="265.5" width="4.4" height="4.4" fill="#9123a8"/>
<rect x="1166.80" y="265.5" width="4.4" height="4.4" fill="#9123a8"/>
<rect x="1181.00" y="265.5" width="4.4" height="4.4" fill="#9123a8"/>
<rect x="1195.20" y="265.5" width="4.4" height="4.4" fill="#9123a8"/>
<rect x="1209.40" y="265.5" width="4.4" height="4.4" fill="#9123a8"/>
<rect x="1223.60" y="265.5" width="4.4" height="4.4" fill="#9123a8"/>
<rect x="1237.80" y="265.5" width="4.4" height="4.4" fill="#9123a8"/>
<rect x="1252.00" y="265.5" width="4.4" height="4.4" fill="#9123a8"/>
<rect x="1266.20" y="265.5" width="4.4" height="4.4" fill="#9123a8"/>
<rect x="1280.40" y="265.5" width="4.4" height="4.4" fill="#9123a8"/>
<rect x="1294.60" y="265.5" width="4.4" height="4.4" fill="#9123a8"/>
<rect x="1308.80" y="265.5" width="4.4" height="4.4" fill="#9123a8"/>
<rect x="1323.00" y="265.5" width="4.4" height="4.4" fill="#9123a8"/>
<rect x="1337.20" y="265.5" width="4.4" height="4.4" fill="#9123a8"/>
<rect x="1351.40" y="265.5" width="4.4" height="4.4" fill="#9123a8"/>
<rect x="1365.60" y="265.5" width="4.4" height="4.4" fill="#9123a8"/>
<rect x="1379.80" y="265.5" width="4.4" height="4.4" fill="#9123a8"/>
<rect x="1394.00" y="265.5" width="4.4" height="4.4" fill="#9123a8"/>
<rect x="1408.20" y="265.5" width="4.4" height="4.4" fill="#9123a8"/>
<rect x="1422.40" y="265.5" width="4.4" height="4.4" fill="#9123a8"/>
<rect x="800.40" y="308.9" width="4.4" height="4.4" fill="#9123a8"/>
<rect x="814.60" y="308.9" width="4.4" height="4.4" fill="#9123a8"/>
<rect x="828.80" y="308.9" width="4.4" height="4.4" fill="#9123a8"/>
<rect x="843.00" y="308.9" width="4.4" height="4.4" fill="#9123a8"/>
<rect x="857.20" y="308.9" width="4.4" height="4.4" fill="#9123a8"/>
<rect x="871.40" y="308.9" width="4.4" height="4.4" fill="#9123a8"/>
<rect x="885.60" y="308.9" width="4.4" height="4.4" fill="#9123a8"/>
<rect x="899.80" y="308.9" width="4.4" height="4.4" fill="#9123a8"/>
<rect x="914.00" y="308.9" width="4.4" height="4.4" fill="#9123a8"/>
<rect x="928.20" y="308.9" width="4.4" height="4.4" fill="#9123a8"/>
<rect x="942.40" y="308.9" width="4.4" height="4.4" fill="#9123a8"/>
<rect x="956.60" y="308.9" width="4.4" height="4.4" fill="#9123a8"/>
<rect x="970.80" y="308.9" width="4.4" height="4.4" fill="#9123a8"/>
<rect x="985.00" y="308.9" width="4.4" height="4.4" fill="#9123a8"/>
<rect x="999.20" y="308.9" width="4.4" height="4.4" fill="#9123a8"/>
<rect x="1013.40" y="308.9" width="4.4" height="4.4" fill="#9123a8"/>
<rect x="1027.60" y="308.9" width="4.4" height="4.4" fill="#9123a8"/>
<rect x="1041.80" y="308.9" width="4.4" height="4.4" fill="#9123a8"/>
<rect x="1056.00" y="308.9" width="4.4" height="4.4" fill="#9123a8"/>
<rect x="1070.20" y="308.9" width="4.4" height="4.4" fill="#9123a8"/>
<rect x="1084.40" y="308.9" width="4.4" height="4.4" fill="#9123a8"/>
<rect x="1098.60" y="308.9" width="4.4" height="4.4" fill="#9123a8"/>
<rect x="1112.80" y="308.9" width="4.4" height="4.4" fill="#9123a8"/>
<rect x="1127.00" y="308.9" width="4.4" height="4.4" fill="#9123a8"/>
<rect x="1141.20" y="308.9" width="4.4" height="4.4" fill="#9123a8"/>
<rect x="1155.40" y="308.9" width="4.4" height="4.4" fill="#9123a8"/>
<rect x="1169.60" y="308.9" width="4.4" height="4.4" fill="#9123a8"/>
<rect x="1183.80" y="308.9" width="4.4" height="4.4" fill="#9123a8"/>
<rect x="1198.00" y="308.9" width="4.4" height="4.4" fill="#9123a8"/>
<rect x="1212.20" y="308.9" width="4.4" height="4.4" fill="#9123a8"/>
<rect x="1226.40" y="308.9" width="4.4" height="4.4" fill="#9123a8"/>
<rect x="1240.60" y="308.9" width="4.4" height="4.4" fill="#9123a8"/>
<rect x="1254.80" y="308.9" width="4.4" height="4.4" fill="#9123a8"/>
<rect x="1269.00" y="308.9" width="4.4" height="4.4" fill="#9123a8"/>
<rect x="1283.20" y="308.9" width="4.4" height="4.4" fill="#9123a8"/>
</g>
<g clip-path="url(#cr)">
<rect x="16" y="722.5" width="1467" height="88.8" fill="#7e57c2" fill-opacity="0.1"/>
<clipPath id="co"><rect x="16" y="649" width="1467" height="73.5"/></clipPath>
<polygon clip-path="url(#co)" points="14.7,722.5 14.7,773.2 18.2,760.5 21.7,765.0 25.2,755.4 28.8,766.3 32.3,773.4 35.8,771.9 39.3,779.9 42.8,779.3 46.4,770.6 49.9,766.9 53.4,763.8 56.9,762.2 60.4,769.1 63.9,770.4 67.5,778.8 71.0,775.5 74.5,782.3 78.0,784.5 81.5,786.8 85.1,784.5 88.6,780.2 92.1,783.6 95.6,772.0 99.1,763.7 102.7,775.1 106.2,781.5 109.7,780.4 113.2,776.7 116.7,769.9 120.3,780.6 123.8,777.1 127.3,774.8 130.8,775.8 134.3,776.1 137.8,779.4 141.4,777.9 144.9,777.9 148.4,776.8 151.9,778.8 155.4,790.5 159.0,808.3 162.5,805.2 166.0,810.5 169.5,814.0 173.0,798.3 176.6,798.9 180.1,796.3 183.6,802.8 187.1,802.1 190.6,802.1 194.2,803.9 197.7,797.0 201.2,797.3 204.7,793.1 208.2,792.5 211.7,789.0 215.3,785.7 218.8,785.9 222.3,782.3 225.8,751.5 229.3,752.1 232.9,748.7 236.4,751.4 239.9,738.6 243.4,718.6 246.9,705.0 250.5,700.6 254.0,700.6 257.5,731.6 261.0,717.6 264.5,703.9 268.0,706.1 271.6,701.7 275.1,726.3 278.6,723.5 282.1,741.9 285.6,729.8 289.2,724.5 292.7,743.3 296.2,745.4 299.7,751.0 303.2,744.4 306.8,745.9 310.3,750.2 313.8,775.9 317.3,778.1 320.8,772.4 324.4,773.2 327.9,756.2 331.4,760.9 334.9,766.4 338.4,770.5 341.9,789.0 345.5,781.7 349.0,780.0 352.5,784.9 356.0,778.3 359.5,779.8 363.1,780.5 366.6,766.8 370.1,759.2 373.6,764.8 377.1,750.9 380.7,741.5 384.2,745.9 387.7,750.3 391.2,768.3 394.7,774.9 398.3,802.3 401.8,795.5 405.3,794.5 408.8,781.4 412.3,779.7 415.8,776.3 419.4,768.2 422.9,753.2 426.4,755.3 429.9,744.8 433.4,758.8 437.0,750.6 440.5,747.4 444.0,753.8 447.5,754.2 451.0,757.1 454.6,758.0 458.1,754.5 461.6,756.8 465.1,745.7 468.6,732.2 472.2,725.8 475.7,724.1 479.2,728.0 482.7,727.6 486.2,757.4 489.7,756.2 493.3,747.8 496.8,750.7 500.3,752.7 503.8,743.3 507.3,740.5 510.9,722.8 514.4,715.9 517.9,708.1 521.4,701.4 524.9,690.7 528.5,694.9 532.0,691.2 535.5,693.1 539.0,680.0 542.5,676.2 546.1,669.6 549.6,666.7 553.1,685.3 556.6,711.9 560.1,710.1 563.6,699.7 567.2,688.1 570.7,681.6 574.2,727.7 577.7,720.0 581.2,711.3 584.8,716.3 588.3,720.8 591.8,718.1 595.3,715.8 598.8,727.4 602.4,747.5 605.9,735.4 609.4,733.1 612.9,760.2 616.4,779.8 619.9,778.1 623.5,777.7 627.0,771.1 630.5,777.4 634.0,779.0 637.5,777.6 641.1,779.8 644.6,784.6 648.1,775.1 651.6,764.7 655.1,756.0 658.7,749.6 662.2,745.2 665.7,746.7 669.2,740.9 672.7,757.2 676.3,754.5 679.8,765.2 683.3,753.8 686.8,741.4 690.3,730.6 693.8,732.4 697.4,731.7 700.9,728.5 704.4,724.9 707.9,746.2 711.4,750.5 715.0,769.8 718.5,768.2 722.0,775.9 725.5,765.9 729.0,773.9 732.6,785.1 736.1,781.7 739.6,794.3 743.1,789.8 746.6,777.9 750.2,778.4 753.7,786.3 757.2,787.7 760.7,785.5 764.2,786.9 767.7,775.7 771.3,760.5 774.8,761.6 778.3,773.3 781.8,779.6 785.3,780.1 788.9,782.7 792.4,793.6 795.9,799.7 799.4,801.8 802.9,803.7 806.5,801.9 810.0,809.1 813.5,820.3 817.0,817.9 820.5,820.9 824.1,813.5 827.6,813.5 831.1,804.3 834.6,800.8 838.1,801.1 841.6,795.0 845.2,803.5 848.7,807.6 852.2,807.9 855.7,796.5 859.2,804.0 862.8,805.8 866.3,802.6 869.8,801.9 873.3,802.7 876.8,799.7 880.4,792.1 883.9,786.9 887.4,807.6 890.9,807.6 894.4,806.0 898.0,801.1 901.5,801.1 905.0,802.7 908.5,801.8 912.0,803.1 915.5,797.8 919.1,765.3 922.6,753.9 926.1,747.8 929.6,754.1 933.1,762.7 936.7,746.2 940.2,753.9 943.7,761.9 947.2,773.3 950.7,737.8 954.3,740.8 957.8,737.2 961.3,738.2 964.8,730.6 968.3,748.1 971.8,741.4 975.4,743.9 978.9,755.9 982.4,756.8 985.9,750.3 989.4,755.8 993.0,764.2 996.5,761.3 1000.0,741.0 1003.5,740.6 1007.0,743.8 1010.6,743.3 1014.1,746.9 1017.6,750.9 1021.1,753.0 1024.6,751.3 1028.2,775.5 1031.7,776.2 1035.2,777.2 1038.7,777.2 1042.2,771.3 1045.7,773.4 1049.3,758.5 1052.8,758.5 1056.3,768.9 1059.8,745.6 1063.3,723.1 1066.9,721.0 1070.4,720.4 1070.4,722.5" fill="url(#obg)"/>
<linearGradient id="obg" gradientUnits="userSpaceOnUse" x1="0" y1="655.9" x2="0" y2="722.5"><stop offset="0" stop-color="#2e8b6e" stop-opacity="0.95"/><stop offset="0.45" stop-color="#4caf50" stop-opacity="0.45"/><stop offset="1" stop-color="#4caf50" stop-opacity="0"/></linearGradient>
<line x1="13.6" y1="722.5" x2="1483" y2="722.5" stroke="#787b86" stroke-width="1.4" stroke-dasharray="7.85 9.55"/>
<line x1="13.6" y1="766.9" x2="1483" y2="766.9" stroke="#787b86" stroke-width="1.4" stroke-dasharray="7.85 9.55"/>
<line x1="13.6" y1="811.3" x2="1483" y2="811.3" stroke="#787b86" stroke-width="1.4" stroke-dasharray="7.85 9.55"/>
<polyline points="14.7,773.2 18.2,760.5 21.7,765.0 25.2,755.4 28.8,766.3 32.3,773.4 35.8,771.9 39.3,779.9 42.8,779.3 46.4,770.6 49.9,766.9 53.4,763.8 56.9,762.2 60.4,769.1 63.9,770.4 67.5,778.8 71.0,775.5 74.5,782.3 78.0,784.5 81.5,786.8 85.1,784.5 88.6,780.2 92.1,783.6 95.6,772.0 99.1,763.7 102.7,775.1 106.2,781.5 109.7,780.4 113.2,776.7 116.7,769.9 120.3,780.6 123.8,777.1 127.3,774.8 130.8,775.8 134.3,776.1 137.8,779.4 141.4,777.9 144.9,777.9 148.4,776.8 151.9,778.8 155.4,790.5 159.0,808.3 162.5,805.2 166.0,810.5 169.5,814.0 173.0,798.3 176.6,798.9 180.1,796.3 183.6,802.8 187.1,802.1 190.6,802.1 194.2,803.9 197.7,797.0 201.2,797.3 204.7,793.1 208.2,792.5 211.7,789.0 215.3,785.7 218.8,785.9 222.3,782.3 225.8,751.5 229.3,752.1 232.9,748.7 236.4,751.4 239.9,738.6 243.4,718.6 246.9,705.0 250.5,700.6 254.0,700.6 257.5,731.6 261.0,717.6 264.5,703.9 268.0,706.1 271.6,701.7 275.1,726.3 278.6,723.5 282.1,741.9 285.6,729.8 289.2,724.5 292.7,743.3 296.2,745.4 299.7,751.0 303.2,744.4 306.8,745.9 310.3,750.2 313.8,775.9 317.3,778.1 320.8,772.4 324.4,773.2 327.9,756.2 331.4,760.9 334.9,766.4 338.4,770.5 341.9,789.0 345.5,781.7 349.0,780.0 352.5,784.9 356.0,778.3 359.5,779.8 363.1,780.5 366.6,766.8 370.1,759.2 373.6,764.8 377.1,750.9 380.7,741.5 384.2,745.9 387.7,750.3 391.2,768.3 394.7,774.9 398.3,802.3 401.8,795.5 405.3,794.5 408.8,781.4 412.3,779.7 415.8,776.3 419.4,768.2 422.9,753.2 426.4,755.3 429.9,744.8 433.4,758.8 437.0,750.6 440.5,747.4 444.0,753.8 447.5,754.2 451.0,757.1 454.6,758.0 458.1,754.5 461.6,756.8 465.1,745.7 468.6,732.2 472.2,725.8 475.7,724.1 479.2,728.0 482.7,727.6 486.2,757.4 489.7,756.2 493.3,747.8 496.8,750.7 500.3,752.7 503.8,743.3 507.3,740.5 510.9,722.8 514.4,715.9 517.9,708.1 521.4,701.4 524.9,690.7 528.5,694.9 532.0,691.2 535.5,693.1 539.0,680.0 542.5,676.2 546.1,669.6 549.6,666.7 553.1,685.3 556.6,711.9 560.1,710.1 563.6,699.7 567.2,688.1 570.7,681.6 574.2,727.7 577.7,720.0 581.2,711.3 584.8,716.3 588.3,720.8 591.8,718.1 595.3,715.8 598.8,727.4 602.4,747.5 605.9,735.4 609.4,733.1 612.9,760.2 616.4,779.8 619.9,778.1 623.5,777.7 627.0,771.1 630.5,777.4 634.0,779.0 637.5,777.6 641.1,779.8 644.6,784.6 648.1,775.1 651.6,764.7 655.1,756.0 658.7,749.6 662.2,745.2 665.7,746.7 669.2,740.9 672.7,757.2 676.3,754.5 679.8,765.2 683.3,753.8 686.8,741.4 690.3,730.6 693.8,732.4 697.4,731.7 700.9,728.5 704.4,724.9 707.9,746.2 711.4,750.5 715.0,769.8 718.5,768.2 722.0,775.9 725.5,765.9 729.0,773.9 732.6,785.1 736.1,781.7 739.6,794.3 743.1,789.8 746.6,777.9 750.2,778.4 753.7,786.3 757.2,787.7 760.7,785.5 764.2,786.9 767.7,775.7 771.3,760.5 774.8,761.6 778.3,773.3 781.8,779.6 785.3,780.1 788.9,782.7 792.4,793.6 795.9,799.7 799.4,801.8 802.9,803.7 806.5,801.9 810.0,809.1 813.5,820.3 817.0,817.9 820.5,820.9 824.1,813.5 827.6,813.5 831.1,804.3 834.6,800.8 838.1,801.1 841.6,795.0 845.2,803.5 848.7,807.6 852.2,807.9 855.7,796.5 859.2,804.0 862.8,805.8 866.3,802.6 869.8,801.9 873.3,802.7 876.8,799.7 880.4,792.1 883.9,786.9 887.4,807.6 890.9,807.6 894.4,806.0 898.0,801.1 901.5,801.1 905.0,802.7 908.5,801.8 912.0,803.1 915.5,797.8 919.1,765.3 922.6,753.9 926.1,747.8 929.6,754.1 933.1,762.7 936.7,746.2 940.2,753.9 943.7,761.9 947.2,773.3 950.7,737.8 954.3,740.8 957.8,737.2 961.3,738.2 964.8,730.6 968.3,748.1 971.8,741.4 975.4,743.9 978.9,755.9 982.4,756.8 985.9,750.3 989.4,755.8 993.0,764.2 996.5,761.3 1000.0,741.0 1003.5,740.6 1007.0,743.8 1010.6,743.3 1014.1,746.9 1017.6,750.9 1021.1,753.0 1024.6,751.3 1028.2,775.5 1031.7,776.2 1035.2,777.2 1038.7,777.2 1042.2,771.3 1045.7,773.4 1049.3,758.5 1052.8,758.5 1056.3,768.9 1059.8,745.6 1063.3,723.1 1066.9,721.0 1070.4,720.4" fill="none" stroke="#7e57c2" stroke-width="1.6" stroke-linejoin="round"/>
<polyline points="14.7,724.3 18.2,726.9 21.7,731.0 25.2,735.1 28.8,740.4 32.3,747.1 35.8,754.1 39.3,757.9 42.8,761.6 46.4,765.2 49.9,767.2 53.4,767.9 56.9,768.6 60.4,768.4 63.9,768.2 67.5,769.5 71.0,770.2 74.5,772.2 78.0,773.5 81.5,774.4 85.1,775.3 88.6,775.3 92.1,775.7 95.6,775.8 99.1,775.5 102.7,776.3 106.2,777.7 109.7,778.5 113.2,779.0 116.7,778.3 120.3,778.7 123.8,778.3 127.3,777.6 130.8,776.8 134.3,776.3 137.8,776.2 141.4,775.8 144.9,776.2 148.4,777.2 151.9,777.4 155.4,778.0 159.0,780.0 162.5,782.1 166.0,785.0 169.5,787.4 173.0,788.9 176.6,790.6 180.1,792.1 183.6,794.0 187.1,795.6 190.6,797.3 194.2,799.2 197.7,800.6 201.2,802.0 204.7,802.1 208.2,801.0 211.7,799.9 215.3,798.1 218.8,796.1 222.3,794.9 225.8,791.5 229.3,788.4 232.9,784.5 236.4,780.9 239.9,776.4 243.4,770.3 246.9,763.7 250.5,756.8 254.0,750.2 257.5,745.8 261.0,740.7 264.5,734.9 268.0,729.2 271.6,723.4 275.1,721.6 278.6,719.6 282.1,719.1 285.6,717.6 289.2,716.5 292.7,718.3 296.2,721.2 299.7,724.8 303.2,727.9 306.8,728.9 310.3,731.3 313.8,736.4 317.3,741.6 320.8,746.6 324.4,750.0 327.9,752.3 331.4,753.7 334.9,756.3 338.4,759.6 341.9,762.8 345.5,765.4 349.0,767.5 352.5,770.4 356.0,772.7 359.5,774.8 363.1,775.1 366.6,774.3 370.1,773.4 373.6,772.8 377.1,772.4 380.7,771.0 384.2,769.6 387.7,768.1 391.2,766.6 394.7,766.1 398.3,767.7 401.8,768.5 405.3,769.7 408.8,769.8 412.3,769.7 415.8,770.4 419.4,771.0 422.9,770.2 426.4,770.5 429.9,770.8 433.4,771.7 437.0,771.7 440.5,770.2 444.0,768.7 447.5,765.3 451.0,762.5 454.6,759.9 458.1,758.0 461.6,756.4 465.1,754.2 468.6,751.6 472.2,749.6 475.7,747.4 479.2,746.2 482.7,744.0 486.2,744.5 489.7,745.1 493.3,744.7 496.8,744.4 500.3,744.1 503.8,743.1 507.3,742.1 510.9,739.6 514.4,737.5 517.9,735.8 521.4,734.0 524.9,731.7 528.5,729.3 532.0,726.7 535.5,722.1 539.0,716.7 542.5,711.5 546.1,705.7 549.6,699.6 553.1,695.5 556.6,693.4 560.1,692.5 563.6,691.4 567.2,689.9 570.7,688.5 574.2,691.1 577.7,692.9 581.2,694.4 584.8,696.0 588.3,698.9 591.8,701.9 595.3,705.2 598.8,709.6 602.4,714.0 605.9,715.7 609.4,717.3 612.9,721.7 616.4,728.2 619.9,735.1 623.5,738.7 627.0,742.3 630.5,747.1 634.0,751.5 637.5,755.6 641.1,760.0 644.6,764.9 648.1,768.3 651.6,769.5 655.1,771.0 658.7,772.2 662.2,771.1 665.7,768.8 669.2,766.1 672.7,764.6 676.3,763.4 679.8,762.6 683.3,760.8 686.8,758.2 690.3,754.7 693.8,750.9 697.4,747.8 700.9,745.3 704.4,743.0 707.9,742.8 711.4,743.2 715.0,744.8 718.5,746.8 722.0,748.1 725.5,748.9 729.0,749.6 732.6,751.8 736.1,754.7 739.6,759.2 743.1,763.3 746.6,766.6 750.2,770.2 753.7,774.6 757.2,777.5 760.7,780.0 764.2,781.2 767.7,781.8 771.3,780.7 774.8,780.4 778.3,780.3 781.8,779.9 785.3,779.8 788.9,779.0 792.4,779.3 795.9,780.8 799.4,782.5 802.9,783.7 806.5,784.8 810.0,786.4 813.5,788.8 817.0,791.8 820.5,796.2 824.1,799.9 827.6,802.7 831.1,804.5 834.6,806.0 838.1,807.3 841.6,807.4 845.2,807.7 848.7,808.1 852.2,808.4 855.7,808.0 859.2,807.6 862.8,806.6 866.3,805.5 869.8,804.2 873.3,803.4 876.8,802.4 880.4,801.5 883.9,800.5 887.4,801.0 890.9,801.9 894.4,802.1 898.0,801.6 901.5,801.1 905.0,801.6 908.5,801.4 912.0,801.2 915.5,800.8 919.1,798.2 922.6,794.7 926.1,791.0 929.6,788.3 933.1,786.6 936.7,782.2 940.2,778.4 943.7,775.2 947.2,773.3 950.7,768.7 954.3,764.3 957.8,759.7 961.3,755.1 964.8,750.3 968.3,749.0 971.8,748.1 975.4,747.9 978.9,748.0 982.4,747.6 985.9,747.9 989.4,748.0 993.0,748.2 996.5,747.3 1000.0,747.5 1003.5,747.5 1007.0,748.0 1010.6,748.4 1014.1,749.5 1017.6,749.7 1021.1,750.5 1024.6,751.1 1028.2,752.5 1031.7,753.9 1035.2,755.8 1038.7,757.3 1042.2,757.8 1045.7,758.7 1049.3,759.9 1052.8,761.2 1056.3,763.0 1059.8,763.2 1063.3,761.5 1066.9,759.3 1070.4,757.0" fill="none" stroke="#fdd835" stroke-width="1.5" stroke-linejoin="round"/>
</g>
<text x="16.5" y="31" font-family="Liberation Sans, sans-serif" font-size="18" fill="#131722" textLength="601.5" lengthAdjust="spacingAndGlyphs">gazmac published on TradingView.com, Nov 06, 2023 05:32 UTC-5</text>
<text x="29.4" y="74.2" font-family="Liberation Sans, sans-serif" font-size="17" fill="#131722" textLength="310" lengthAdjust="spacingAndGlyphs">Bitcoin / U.S. Dollar, 1W, BITSTAMP</text>
<text x="351.3" y="74.2" font-family="Liberation Sans, sans-serif" font-size="17" fill="#131722" textLength="14" lengthAdjust="spacingAndGlyphs">O</text>
<text x="366.9" y="74.2" font-family="Liberation Sans, sans-serif" font-size="17" fill="#089981" textLength="56.8" lengthAdjust="spacingAndGlyphs">35043</text>
<text x="436.9" y="74.2" font-family="Liberation Sans, sans-serif" font-size="17" fill="#131722" textLength="12.5" lengthAdjust="spacingAndGlyphs">H</text>
<text x="450.3" y="74.2" font-family="Liberation Sans, sans-serif" font-size="17" fill="#089981" textLength="57.7" lengthAdjust="spacingAndGlyphs">35204</text>
<text x="521" y="74.2" font-family="Liberation Sans, sans-serif" font-size="17" fill="#131722" textLength="9.5" lengthAdjust="spacingAndGlyphs">L</text>
<text x="531.6" y="74.2" font-family="Liberation Sans, sans-serif" font-size="17" fill="#089981" textLength="56.2" lengthAdjust="spacingAndGlyphs">34766</text>
<text x="600.3" y="74.2" font-family="Liberation Sans, sans-serif" font-size="17" fill="#131722" textLength="13" lengthAdjust="spacingAndGlyphs">C</text>
<text x="615" y="74.2" font-family="Liberation Sans, sans-serif" font-size="17" fill="#089981" textLength="55.6" lengthAdjust="spacingAndGlyphs">35204</text>
<text x="684" y="74.2" font-family="Liberation Sans, sans-serif" font-size="17" fill="#089981" textLength="42.9" lengthAdjust="spacingAndGlyphs">+159</text>
<text x="734.7" y="74.2" font-family="Liberation Sans, sans-serif" font-size="17" fill="#089981" textLength="81.3" lengthAdjust="spacingAndGlyphs">(+0.45%)</text>
<text x="29.4" y="100.9" font-family="Liberation Sans, sans-serif" font-size="17" fill="#131722" textLength="79.6" lengthAdjust="spacingAndGlyphs">Vol · BTC</text>
<text x="122" y="100.9" font-family="Liberation Sans, sans-serif" font-size="17" fill="#089981" textLength="34" lengthAdjust="spacingAndGlyphs">289</text>
<text x="936.4" y="167.4" font-family="Liberation Sans, sans-serif" font-size="37.5" fill="#000" textLength="146.2" lengthAdjust="spacingAndGlyphs" font-weight="bold">$60000</text>
<text x="1002.5" y="253" font-family="Liberation Sans, sans-serif" font-size="32" fill="#000" textLength="119.5" lengthAdjust="spacingAndGlyphs" font-weight="bold">$47000</text>
<text x="979" y="297" font-family="Liberation Sans, sans-serif" font-size="32.5" fill="#000" textLength="130" lengthAdjust="spacingAndGlyphs" font-weight="bold">$40,000</text>
<text x="1496.6" y="128.4" font-family="Liberation Sans, sans-serif" font-size="18" fill="#131722" textLength="57.7" lengthAdjust="spacingAndGlyphs">70000</text>
<text x="1496.6" y="382.6" font-family="Liberation Sans, sans-serif" font-size="18" fill="#131722" textLength="57.7" lengthAdjust="spacingAndGlyphs">30000</text>
<text x="1496.6" y="446.2" font-family="Liberation Sans, sans-serif" font-size="18" fill="#131722" textLength="57.7" lengthAdjust="spacingAndGlyphs">20000</text>
<text x="1496.6" y="509.7" font-family="Liberation Sans, sans-serif" font-size="18" fill="#131722" textLength="57.7" lengthAdjust="spacingAndGlyphs">10000</text>
<text x="1496.6" y="573.3" font-family="Liberation Sans, sans-serif" font-size="18" fill="#131722">0</text>
<text x="1496.6" y="636.9" font-family="Liberation Sans, sans-serif" font-size="18" fill="#131722" textLength="70" lengthAdjust="spacingAndGlyphs">−10000</text>
<text x="1497.3" y="662.8" font-family="Liberation Sans, sans-serif" font-size="18" fill="#131722" textLength="62.7" lengthAdjust="spacingAndGlyphs">100.00</text>
<text x="1497.3" y="718.3" font-family="Liberation Sans, sans-serif" font-size="18" fill="#131722" textLength="50.7" lengthAdjust="spacingAndGlyphs">75.00</text>
<text x="1497.3" y="773.8" font-family="Liberation Sans, sans-serif" font-size="18" fill="#131722" textLength="50.7" lengthAdjust="spacingAndGlyphs">50.00</text>
<text x="1497.3" y="829.3" font-family="Liberation Sans, sans-serif" font-size="18" fill="#131722" textLength="50.7" lengthAdjust="spacingAndGlyphs">25.00</text>
<rect x="1483" y="145.5" width="76" height="53" fill="#9c27b0"/>
<rect x="1483" y="217.5" width="76" height="106.2" fill="#9c27b0"/>
<path d="M1483,145.5 H1560.5 a2.5,2.5 0 0 1 2.5,2.5 V169.5 a2.5,2.5 0 0 1 -2.5,2.5 H1483 Z" fill="#9c27b0"/>
<path d="M1483,172 H1560.5 a2.5,2.5 0 0 1 2.5,2.5 V196.0 a2.5,2.5 0 0 1 -2.5,2.5 H1483 Z" fill="#9c27b0"/>
<path d="M1483,217.5 H1560.5 a2.5,2.5 0 0 1 2.5,2.5 V241.5 a2.5,2.5 0 0 1 -2.5,2.5 H1483 Z" fill="#9c27b0"/>
<path d="M1483,244 H1560.5 a2.5,2.5 0 0 1 2.5,2.5 V268.1 a2.5,2.5 0 0 1 -2.5,2.5 H1483 Z" fill="#9c27b0"/>
<path d="M1483,270.6 H1560.5 a2.5,2.5 0 0 1 2.5,2.5 V294.7 a2.5,2.5 0 0 1 -2.5,2.5 H1483 Z" fill="#9c27b0"/>
<path d="M1483,297.2 H1560.5 a2.5,2.5 0 0 1 2.5,2.5 V321.2 a2.5,2.5 0 0 1 -2.5,2.5 H1483 Z" fill="#9c27b0"/>
<text x="1496.7" y="165.2" font-family="Liberation Sans, sans-serif" font-size="18" fill="#fff" textLength="57.7" lengthAdjust="spacingAndGlyphs">60000</text>
<text x="1496.7" y="191.7" font-family="Liberation Sans, sans-serif" font-size="18" fill="#fff" textLength="57.7" lengthAdjust="spacingAndGlyphs">60000</text>
<text x="1496.7" y="237.2" font-family="Liberation Sans, sans-serif" font-size="18" fill="#fff" textLength="57.7" lengthAdjust="spacingAndGlyphs">47000</text>
<text x="1496.7" y="263.7" font-family="Liberation Sans, sans-serif" font-size="18" fill="#fff" textLength="57.7" lengthAdjust="spacingAndGlyphs">47000</text>
<text x="1496.7" y="290.7" font-family="Liberation Sans, sans-serif" font-size="18" fill="#fff" textLength="57.7" lengthAdjust="spacingAndGlyphs">40169</text>
<text x="1496.7" y="317.2" font-family="Liberation Sans, sans-serif" font-size="18" fill="#fff" textLength="57.7" lengthAdjust="spacingAndGlyphs">40169</text>
<path d="M1483,329.6 H1565.8 a2,2 0 0 1 2,2 V375.7 a2,2 0 0 1 -2,2 H1483 Z" fill="#089981"/>
<text x="1496.7" y="348.6" font-family="Liberation Sans, sans-serif" font-size="18" fill="#fff" textLength="57.7" lengthAdjust="spacingAndGlyphs">35204</text>
<text x="1496.7" y="370.4" font-family="Liberation Sans, sans-serif" font-size="18" fill="#fff" textLength="61.7" lengthAdjust="spacingAndGlyphs" fill-opacity="0.75">6d 14h</text>
<rect x="1390" y="329.6" width="91.4" height="25.8" rx="2" fill="#089981"/>
<text x="1398.3" y="348.6" font-family="Liberation Sans, sans-serif" font-size="18" fill="#fff" textLength="74.9" lengthAdjust="spacingAndGlyphs">BTCUSD</text>
<rect x="1489.5" y="49.5" width="88" height="40.5" rx="6" fill="#fff" stroke="#e0e3eb"/>
<text x="1504.4" y="76" font-family="Liberation Sans, sans-serif" font-size="18" fill="#131722" textLength="37.6" lengthAdjust="spacingAndGlyphs">USD</text>
<text x="183.6" y="866.9" font-family="Liberation Sans, sans-serif" font-size="18" fill="#131722" textLength="48.5" lengthAdjust="spacingAndGlyphs" font-weight="bold" text-anchor="middle">2019</text>
<text x="366.6" y="866.9" font-family="Liberation Sans, sans-serif" font-size="18" fill="#131722" textLength="48.5" lengthAdjust="spacingAndGlyphs" font-weight="bold" text-anchor="middle">2020</text>
<text x="549.6" y="866.9" font-family="Liberation Sans, sans-serif" font-size="18" fill="#131722" textLength="48.5" lengthAdjust="spacingAndGlyphs" font-weight="bold" text-anchor="middle">2021</text>
<text x="732.6" y="866.9" font-family="Liberation Sans, sans-serif" font-size="18" fill="#131722" textLength="48.5" lengthAdjust="spacingAndGlyphs" font-weight="bold" text-anchor="middle">2022</text>
<text x="915.5" y="866.9" font-family="Liberation Sans, sans-serif" font-size="18" fill="#131722" textLength="48.5" lengthAdjust="spacingAndGlyphs" font-weight="bold" text-anchor="middle">2023</text>
<text x="1098.5" y="866.9" font-family="Liberation Sans, sans-serif" font-size="18" fill="#131722" textLength="48.5" lengthAdjust="spacingAndGlyphs" font-weight="bold" text-anchor="middle">2024</text>
<text x="1285" y="866.9" font-family="Liberation Sans, sans-serif" font-size="18" fill="#131722" textLength="48.5" lengthAdjust="spacingAndGlyphs" font-weight="bold" text-anchor="middle">2025</text>
<g clip-path="url(#ct)">
<text x="1468" y="866.9" font-family="Liberation Sans, sans-serif" font-size="18" fill="#131722" textLength="48.5" lengthAdjust="spacingAndGlyphs" font-weight="bold" text-anchor="middle">2026</text>
</g>
<text x="29" y="680" font-family="Liberation Sans, sans-serif" font-size="17" fill="#131722" textLength="231" lengthAdjust="spacingAndGlyphs">RSI (14, close, SMA, 14, 2)</text>
<text x="273" y="680" font-family="Liberation Sans, sans-serif" font-size="17" fill="#7e57c2" textLength="47" lengthAdjust="spacingAndGlyphs">71.88</text>
<text x="333" y="680" font-family="Liberation Sans, sans-serif" font-size="17" fill="#fdd835" textLength="49" lengthAdjust="spacingAndGlyphs">54.75</text>
<circle cx="400.3" cy="675.2" r="5.3" fill="none" stroke="#131722" stroke-width="1.4"/><line x1="395.2" y1="681" x2="405.5" y2="669.6" stroke="#131722" stroke-width="1.4"/>
<circle cx="424.8" cy="675.2" r="5.3" fill="none" stroke="#131722" stroke-width="1.4"/><line x1="419.7" y1="681" x2="430.0" y2="669.6" stroke="#131722" stroke-width="1.4"/>
<circle cx="449.3" cy="675.2" r="5.3" fill="none" stroke="#131722" stroke-width="1.4"/><line x1="444.2" y1="681" x2="454.5" y2="669.6" stroke="#131722" stroke-width="1.4"/>
<circle cx="473.3" cy="675.2" r="5.3" fill="none" stroke="#131722" stroke-width="1.4"/><line x1="468.2" y1="681" x2="478.5" y2="669.6" stroke="#131722" stroke-width="1.4"/>
<circle cx="497.3" cy="675.2" r="5.3" fill="none" stroke="#131722" stroke-width="1.4"/><line x1="492.2" y1="681" x2="502.5" y2="669.6" stroke="#131722" stroke-width="1.4"/>
<circle cx="521.3" cy="675.2" r="5.3" fill="none" stroke="#131722" stroke-width="1.4"/><line x1="516.2" y1="681" x2="526.5" y2="669.6" stroke="#131722" stroke-width="1.4"/>
<circle cx="1070.9" cy="588.4" r="15.3" fill="#fff" stroke="#9c27b0" stroke-width="1.8"/>
<polygon points="1076.5,579.6 1064.3,589.6 1071.1,589.6 1066.5,597.0 1077.9,587.4 1071.5,587.4" fill="#9c27b0"/>
<circle cx="1070.7" cy="627.2" r="15.9" fill="#fff" stroke="#f5101f" stroke-width="2.3"/>
<clipPath id="fl"><circle cx="1070.7" cy="627.2" r="12.6"/></clipPath>
<g clip-path="url(#fl)">
<rect x="1057" y="614" width="28" height="27" fill="#fff"/>
<rect x="1057" y="615.5" width="28" height="4.4" fill="#f04a55"/>
<rect x="1057" y="623.5" width="28" height="5.0" fill="#f04a55"/>
<rect x="1057" y="634.2" width="28" height="5.0" fill="#f04a55"/>
<rect x="1057" y="614" width="16.6" height="15.9" fill="#3d7de0"/>
<circle cx="1061.6" cy="617.8" r="0.9" fill="#fff"/>
<circle cx="1065.7" cy="617.8" r="0.9" fill="#fff"/>
<circle cx="1069.8" cy="617.8" r="0.9" fill="#fff"/>
<circle cx="1061.6" cy="622.0" r="0.9" fill="#fff"/>
<circle cx="1065.7" cy="622.0" r="0.9" fill="#fff"/>
<circle cx="1069.8" cy="622.0" r="0.9" fill="#fff"/>
<circle cx="1061.6" cy="626.2" r="0.9" fill="#fff"/>
<circle cx="1065.7" cy="626.2" r="0.9" fill="#fff"/>
<circle cx="1069.8" cy="626.2" r="0.9" fill="#fff"/>
</g>
<path d="M15.8,901 H27 V915.5 H21.2 V906.3 H15.8 Z" fill="#131722"/>
<circle cx="33.2" cy="903.8" r="2.7" fill="#131722"/>
<path d="M38.2,901 H46.1 L40.8,915.5 H33.9 Z" fill="#131722"/>
<text x="53" y="916.6" font-family="Liberation Sans, sans-serif" font-size="20" fill="#131722" textLength="116.4" lengthAdjust="spacingAndGlyphs">TradingView</text>
</svg>
</body></html>
